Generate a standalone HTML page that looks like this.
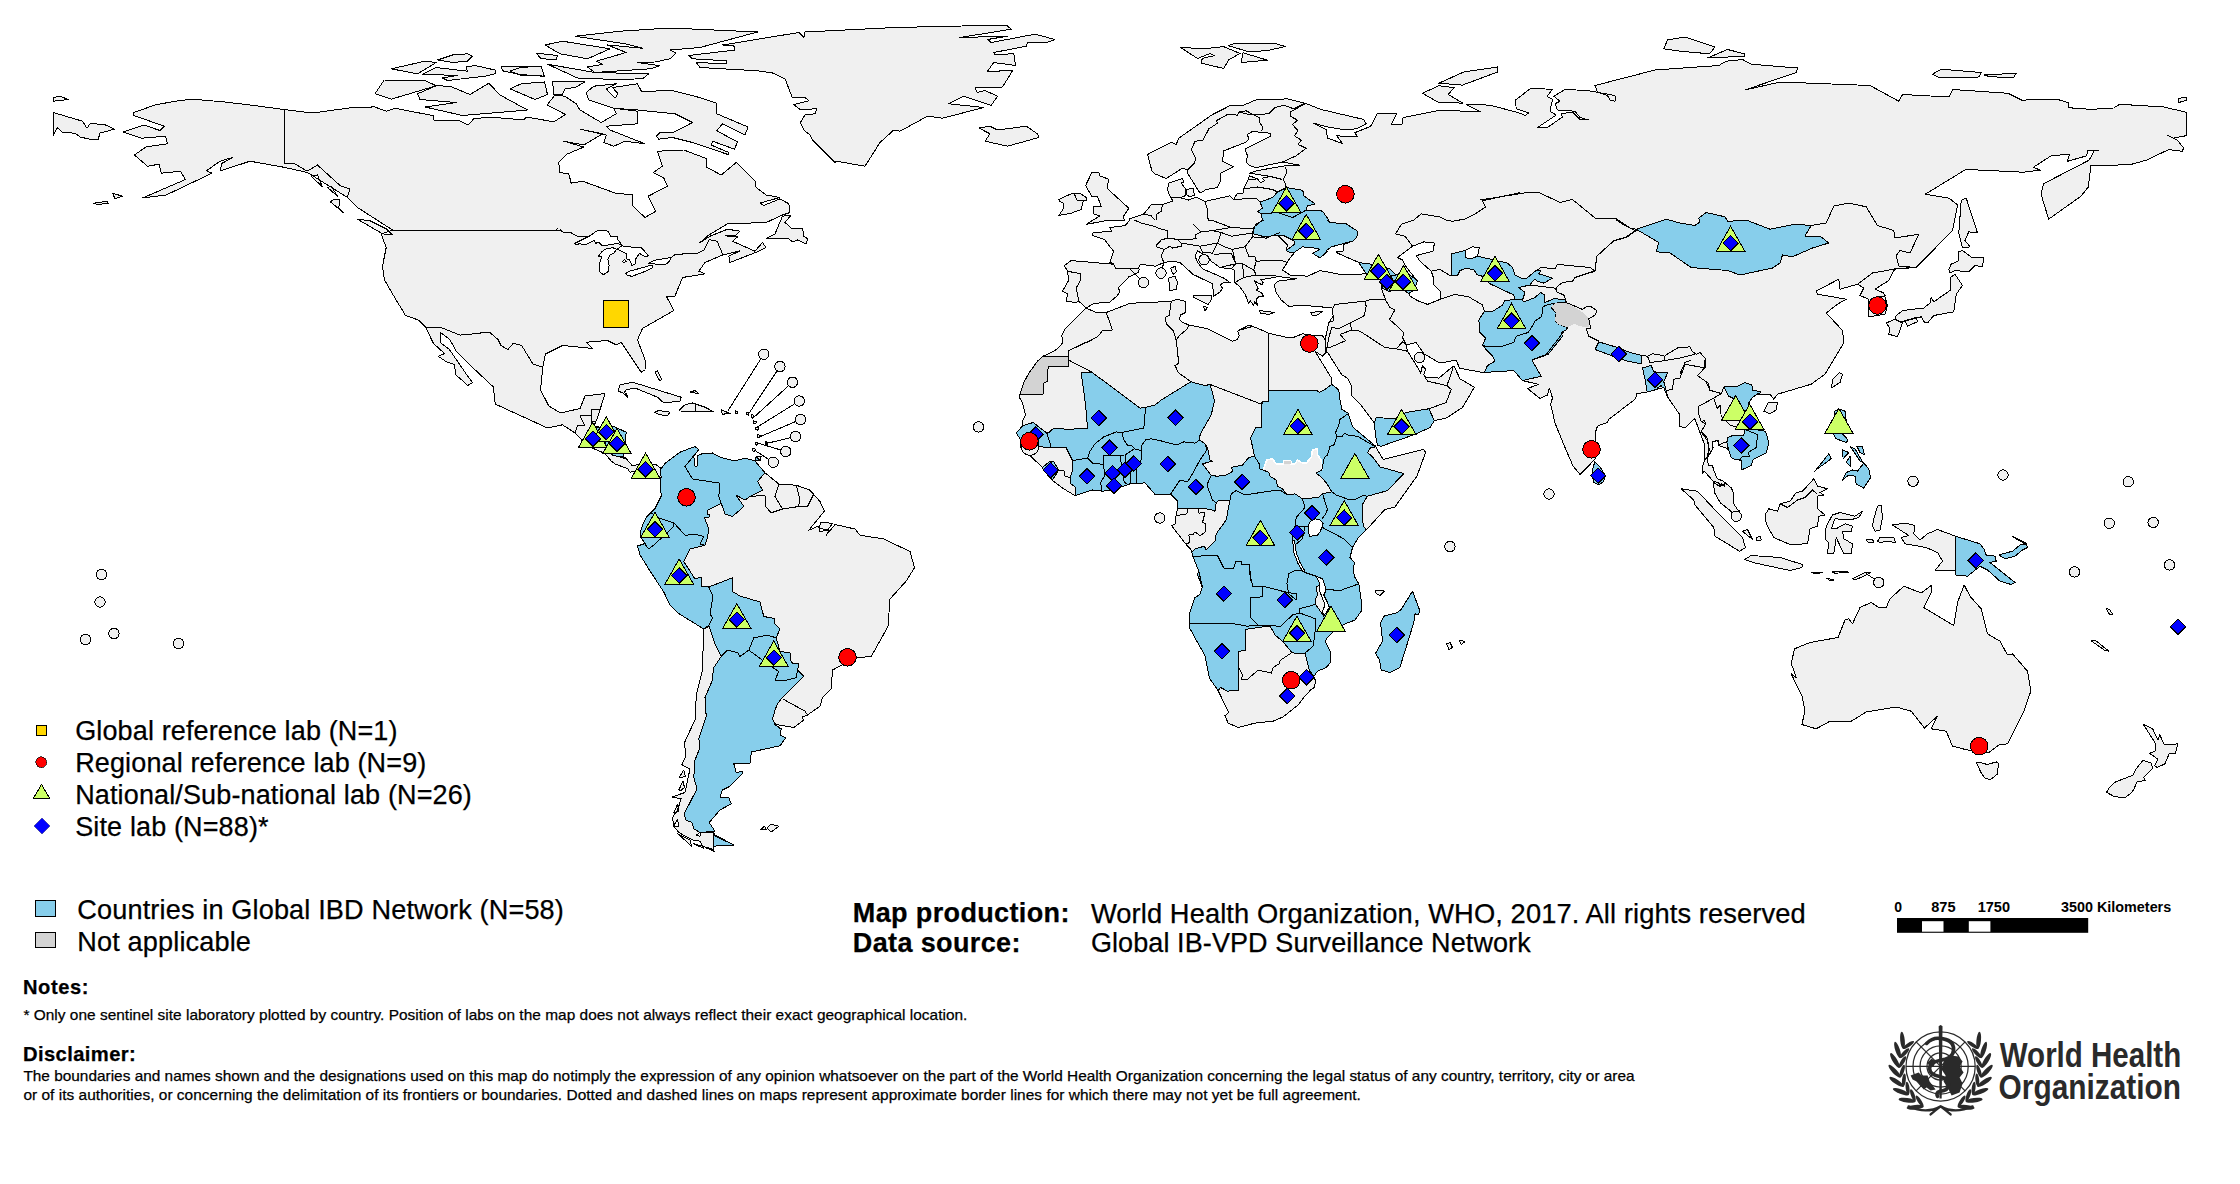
<!DOCTYPE html>
<html><head><meta charset="utf-8"><title>Global IBD Laboratory Network</title>
<style>
html,body{margin:0;padding:0;background:#fff;}
body{width:2240px;height:1184px;position:relative;overflow:hidden;font-family:"Liberation Sans",sans-serif;color:#000;}
.t{position:absolute;white-space:nowrap;line-height:1;-webkit-text-stroke:0.25px #000;}
</style></head><body>
<svg width="2240" height="1184" viewBox="0 0 2240 1184" style="position:absolute;left:0;top:0">
<defs><clipPath id="landclip"><path d="M53.2 112.5 L82.5 121.2 L87 128.2 L90 123.8 L103.8 124.2 L114.5 129.2 L100 133 L98.2 139.5 L91.2 139.5 L80 137 L75 133.2 L62.5 132.5 L57.5 127.5 L53.2 135.5Z M53.2 97.5 L60 96.2 L68.2 99.5 L53.8 101.2Z M311.2 176.2 L317.5 175 L322.5 187Z M327.5 187.5 L331.2 186.2 L337.5 196.2Z M330.5 202 L333.8 199.2 L340 200 L338.8 207.5 L343.2 212.5Z M357.5 219.2 L370 220.8 L386.2 228.8 L392.5 235 L382.5 233.8Z M112.5 193.2 L122.5 196.2 L115 198.8Z M93.8 203.2 L107.5 201.2 L108.2 203.2 L97.5 204.5Z M384.2 80 L425 80.5 L436.2 85.8 L391.2 99.2 L375 93.8Z M417.5 93.8 L436.2 85.8 L450 86.2 L470 94.5 L488.8 83.2 L500 95 L527.5 110 L462.5 115.5 L425 107 L456.2 102.5 L420 99.5Z M391.2 68.8 L425 61.2 L436.2 62.5 L417.5 73.8Z M422.5 74.2 L436.2 67.5 L467.5 71.2 L466.2 67 L475 65.5 L495 70 L495 73.8 L485 76.2 L447.5 80.5 L442.5 78 L457.5 75.5Z M437.5 60 L452.5 55 L467.5 53.8 L472.5 56.2 L467.5 61.2 L452.5 62.5Z M501.2 66.2 L541.2 66.2 L544.5 76.2 L520 74.5 L502.5 70.8Z M510 88.8 L521.2 83.8 L544.5 82 L547.5 94.5 L535 99.5Z M618.2 391 L620 384.8 L632.5 382.2 L681.2 397.2 L680 401 L663.8 403 L657.5 397.2 L635 388 L626.2 389.8 L623.8 393.5Z M624.5 394.8 L626.2 393.5 L628 398Z M655 372.2 L657.5 371 L661.8 379.8 L659.5 380.5Z M654.2 412.2 L658.8 410.5 L670 412.2 L667.5 415.5 L660 414.8Z M679.5 409.8 L685 404.8 L692.5 403 L705 407.2 L713.8 411.8 L680 411Z M690 392.2 L695 390.5 L698.8 393.5Z M721.2 409.8 L730 413.5 L722.5 414.2Z M755 457.2 L761.2 456 L760 461 L755 460.5Z M751.2 414.5 L754 415.5 L753.2 417.8 L751.2 417Z M753.8 420.8 L756.5 421.8 L755.8 424 L753.8 423.2Z M755.8 427 L758.5 428 L757.8 430.2 L755.8 429.5Z M757.5 434.5 L760.2 435.5 L759.5 437.8 L757.5 437Z M755 442 L757.8 443 L757 445.2 L755 444.5Z M765 441.5 L767.8 442.5 L767 444.8 L765 444Z M752.5 448.2 L755.2 449.2 L754.5 451.5 L752.5 450.8Z M735 410.8 L737.8 411.8 L737 414 L735 413.2Z M746.2 412 L749 413 L748.2 415.2 L746.2 414.5Z M760.8 829.5 L764.5 826.2 L766.2 830Z M767 828 L771.2 824.2 L778.8 826.2 L771.2 832Z M679.5 777 L683.8 770 L685.2 776.2 L681 778Z M678.8 790 L683 781.2 L684.5 787.5 L680.2 791Z M673.8 812.5 L677.5 804.5 L679 810.8 L675.2 813.5Z M673.8 825 L677.5 820 L679 826.2 L675.2 826Z M677.5 833.8 L690 840 L691.5 846.2 L679 834.8Z M693.8 843.8 L702.5 846.2 L704 848.2 L695.2 844.8Z M705 847 L713 849.5 L714.5 851.5 L706.5 848Z M818.8 527.8 L821.2 522 L832.5 523.5 L827.5 530.2Z M798.8 32.5 L803.8 37.5 L805 32 L895 27.5 L1006.2 25 L1011.2 29.2 L960 37.5 L1007.5 36.2 L987.5 39.5 L991.2 42.5 L1035 34.2 L1055 39.5 L1045 43 L1027.5 42.5 L1026.2 46.2 L993.8 52.5 L995 54.5 L1013.8 53.8 L1015.5 65.5 L993.8 62.5 L987.5 71.2 L1012.5 70.8 L1002.5 87 L975 88 L977.5 92.5 L985 90.5 L997.5 96.2 L991.2 105.5 L963.8 96.2 L948.8 103.8 L983.8 107.5 L942.5 118.2 L927.5 116.2 L900 131.2 L893.8 130 L880 142.5 L865 166.2 L836.2 161.2 L835 162.5 L812.5 140 L810 135 L803.8 130 L800.5 122.5 L805 115 L815 113.8 L816.8 108.8 L800 109.5 L793.8 104.5 L808.8 100.8 L805 97.5 L792.5 98 L785 78.8 L772.5 73 L757.5 70.8 L700 67.5 L696.2 62.5 L726.2 63.8 L726.8 60.8 L692.5 58.8 L688.8 55.5 L735 50 L733.8 45.8 L722.5 45Z M978.8 128 L990 126.2 L997.5 130 L1026.2 126.2 L1037.5 133.8 L1038.8 137.5 L1007.5 146.2 L985 141.2 L990 133.8Z M575 36.2 L620 31.2 L670 28 L757.5 32 L700 47.5 L670 50 L676.2 53 L670 58.8 L655 62 L637.5 62.5 L660 65.8 L650 68.8 L595 72.5 L587.5 67 L602.5 64.5 L596.2 61.2 L626.2 52.5 L607.5 45 L642.5 48.2 L625 43.8Z M545 45 L562.5 41.2 L610 48.8 L587.5 58.8 L560 53.8Z M547.5 64.2 L595 72.5 L648.8 73.8 L642.5 78.8 L615 79.5 L577.5 78Z M536.2 53.2 L557.5 55.5 L556.2 59.5 L541.2 58.8Z M520 67.5 L541.2 66.2 L544.2 76.2 L520 75 L510 71.2Z M552.5 81.2 L585 82 L575 87.5 L565 88.8 L562.5 94.5 L553.8 94.5Z M586.2 92.5 L593.8 86.2 L616.2 83.8 L606.2 88.8 L615 98.2 L618 93.8 L612.5 87.5 L637.5 83.8 L641.8 92 L670 90 L695 96.2 L716.2 103 L716.8 113.8 L748 127 L745 135 L722.5 123.8 L716.8 130.8 L737.5 142 L734.5 149.2 L712.5 141.2 L711.2 145 L728.8 152.5 L728 154.5 L692.5 142.5 L672.5 137.5 L658.8 139.2 L656.2 136.2 L660 132.5 L672.5 133 L692.5 122.5 L675 113.8 L637.5 110 L613.8 108.2 L588.8 100Z M766.2 238.8 L775 233.8 L782.5 216.2 L791.2 215 L785 222.5 L791.2 228 L802.5 228 L803.8 236.2 L807.5 238.8 L806.2 243.8 L797.5 240 L792.5 242 L788.8 238.8Z M284.2 109.5 L250 105 L225 102 L192.5 99.2 L175 101.2 L155 105 L133.8 112.5 L133.8 115.5 L164.2 126.2 L160 130.5 L143.8 125 L123.2 132 L141.8 138.2 L165.5 136.2 L167.5 143.8 L146.2 146.8 L134.5 155 L147.5 166.2 L159.2 164.2 L161.2 173.2 L180.5 171.2 L185.5 179.5 L142.5 198 L166.2 195 L212 173.2 L206.5 170.8 L220 161.2 L232.5 157.5 L221.2 163.8 L220.8 170.8 L250 161.2 L282.5 167 L307.5 172.5 L347.5 197.5 L357.5 207.5 L392.5 230 L381.2 234.2 L386.2 247.5 L382.5 266.2 L384.5 280 L393.8 296 L393.8 296 L397.5 302.2 L402.3 310 L405.3 315.3 L419 320.3 L425.8 327.5 L433.4 343.4 L444.5 353.5 L438.4 356.4 L446.4 361.7 L454.7 364.7 L455.5 374.6 L461.6 379.9 L467.6 385.6 L472.6 382.6 L466.1 373.8 L449.4 349.5 L440.3 342.7 L440.3 332.4 L449.8 339.6 L456.2 351 L474.5 369.3 L493.5 387.1 L494.6 400 L495.5 404.2 L547.5 428 L562.5 424.8 L575 433 L587.5 446 L605 453.5 L611.2 461 L615 464 L627.5 468.5 L630 472.2 L636.2 471 L640 474.8 L650 478 L660 478.5 L661.2 496 L655 508.5 L646.2 517.2 L641.2 528.5 L640 536 L645 543.5 L637.5 546 L640 554.8 L650 571 L663.8 592 L663.8 592 L670 605.2 L677.5 612.8 L703.8 629 L703 651.5 L702.5 670 L696.2 695 L695.5 718.8 L684.5 742.5 L685.8 756.2 L681.8 765 L690 768.8 L685 792.5 L671.8 797 L681.2 798.8 L677.5 810 L672.5 817.5 L673.8 826.2 L678.8 832.5 L692.5 840 L700 841.2 L702.5 846.2 L713.8 849.5 L713 846.2 L733.8 845 L715 835 L713 832 L701.2 832.5 L700 836.2 L696.2 835 L700 832.5 L715 831.2 L709.2 822.5 L720 810 L731.2 803.8 L728.8 797.5 L720 797 L722.5 790 L730 786.2 L742.5 773.8 L742.5 771.2 L736.2 772.5 L733.8 763.8 L750.5 763 L751.2 752 L780 745.8 L785.5 738 L780 735 L781.2 728.8 L775 724.5 L772.5 718.8 L775.5 724.5 L793.8 727.5 L803.8 720 L802 717 L807.5 715 L820 706.2 L822.5 697.5 L831.2 688.8 L832.5 670 L856.2 657.8 L871.2 656.5 L888 626.5 L890 599 L906.2 581 L914.5 567.8 L910 551.5 L883.8 539 L860 535.2 L855 529 L835 524.5 L826.2 535.2 L828.8 530.2 L820 531.5 L818.8 526 L808.8 530.2 L824.5 511 L820 501.5 L810 490.2 L796.2 485.2 L778.8 484 L765 472.8 L755 461 L745 458 L735 461 L720 457.2 L712.5 453 L702.5 453.5 L697 456 L697 466 L695 466 L693.8 456 L698.8 449.8 L695 446.5 L680 452.2 L665 463.5 L661.2 468.5 L655 464 L640 464 L632.5 466 L625 457.2 L616.2 456 L623.8 456 L625 446 L626.2 432.2 L613.8 426.5 L600 427.2 L593.8 426 L596.2 421 L600 409.8 L605 393.5 L585 396 L580 408.5 L560.5 413 L548.8 406 L540.5 389.8 L542.8 367 L545.5 354 L562.5 345.5 L592.5 348.5 L586.2 342.2 L607.5 340.5 L616.2 344.8 L621.2 342.2 L641.2 372.2 L645 369.8 L645.5 361 L637.5 339.8 L642.5 328.5 L673.8 310.5 L666.2 296 L675 296 L682.5 277.5 L705 273.8 L698.8 271.2 L705 262.5 L722.5 255 L740 250.8 L728.8 256.2 L730 262.5 L758.8 251.2 L765.8 247.5 L762.5 242.5 L755 251.2 L732.5 241.2 L737.5 237 L725 235.8 L736.2 235 L740 231.2 L727.5 229.2 L710 236.2 L700 242.5 L708.8 235 L727.5 223.8 L766.2 222.5 L782.5 215 L790 212.5 L788.8 203.8 L780 198.8 L763.8 205.5 L760 203 L780 197.5 L766.2 195 L756.2 187.5 L755 181.2 L736.2 162.5 L721.2 175 L706.2 167 L707 158.8 L683.8 150 L657.5 151.2 L662.5 166.2 L653.2 172.5 L663.8 178 L667.5 186.2 L648.2 196.2 L655.8 211.2 L645 217.5 L633 206.2 L632.5 195 L615 193 L582.5 181.2 L571.2 183.2 L568.8 173.8 L559.5 172.5 L558.8 162.5 L566.2 154.5 L583.8 147 L563.8 141.2 L583.8 145 L602.5 133.8 L580 129.2 L606.2 135 L603.8 142.5 L613.8 146.2 L625 141.2 L645 143.8 L610 130 L606.2 126.2 L637.5 123.8 L637.5 111.2 L613.8 108.2 L616.2 113.8 L601.2 122.5 L580 110 L576.2 103.8 L565 96.2 L555 95 L547 105 L565.5 114.5 L553.8 121.8 L526.2 117 L523.8 120 L490 117 L473.8 118.8 L468 125 L457.5 120 L433.8 120 L433.8 115.8 L395 108.2 L386.2 111.2 L372.5 106.2 L370 108 L352.5 107.5 L312.5 113 L284.2 109.5Z M1412.5 591.2 L1420 611.2 L1418.1 615 L1415 613.8 L1413.8 622.5 L1408.8 638.8 L1402.5 658.8 L1400 667.5 L1390 672.5 L1381.2 670 L1379.4 660 L1375.6 653.1 L1382.5 641.2 L1380.6 622.5 L1383.8 616.2 L1397.5 612.5 L1401.2 609.4Z M1375.2 590.6 L1384.4 591 L1380 595.6 L1376.2 593.8Z M1091.9 172.4 L1098.8 172 L1099.4 175.8 L1108.8 179.2 L1106.9 188.2 L1128.8 208.2 L1123.1 217 L1125 220.6 L1106.2 220.6 L1086.2 224.4 L1100 215.8 L1093.8 213.9 L1093.1 207 L1101.2 206.4 L1097.5 196.4 L1091.9 196.4 L1085.6 185.5Z M1058.8 199.5 L1072.5 193.2 L1080 193.2 L1086.2 197.6 L1086.9 200.1 L1083.1 201.4 L1081.2 209.5 L1071.2 213.2 L1058.8 215.5 L1063.8 208.2 L1063.1 203.2 L1060 201.4Z M1186.9 189.5 L1193.1 188.2 L1194.4 195.1 L1190 197 L1186.2 194.5Z M1193.8 295 L1211.2 295 L1211.2 300 L1208.1 304.4 L1193.8 297.5Z M1203.1 306.2 L1207.5 307.5 L1205 310.6Z M1170.6 268.1 L1175.6 266.2 L1176.2 271.9 L1173.1 274.4Z M1168.8 278.1 L1175 276.2 L1177.5 282.5 L1176.2 289.4 L1169.4 290.6Z M1259.4 310.6 L1275 312.5 L1268.8 314.4 L1260.6 313.1Z M1310.6 312.5 L1322.5 311.2 L1317.5 315 L1312.5 315.6Z M1422.5 93.2 L1438.8 85.8 L1454.4 87.6 L1448.1 94.5 L1463.1 103.2 L1437.5 102Z M1438.8 83.2 L1463.8 72 L1497.5 67 L1497.5 72 L1462.5 85.1Z M1763.8 411.2 L1768.1 402.5 L1777.5 402.5 L1776.2 410 L1770 413.8Z M1831.2 388.1 L1833.1 378.8 L1839.4 372.5 L1842.5 374.4 L1840 382.5Z M1833.8 418.8 L1835 411.2 L1838.8 408.8 L1845 411.2 L1846.2 420 L1842.5 433.8 L1848.1 440 L1846.2 442.5 L1836.2 438.8 L1833.1 433.8 L1836.2 427.5Z M1842.5 450 L1848.8 452.5 L1843.1 458.8Z M1856.9 446.2 L1862.5 446.2 L1864.4 455 L1860 452.5Z M1846.2 462.5 L1850 456.2 L1850.6 466.2Z M1814.4 471.9 L1828.8 453.8 L1831.2 458.8 L1817.5 468.8Z M1842.5 480 L1846.2 472.5 L1852.5 470 L1857.5 471.2 L1863.8 463.1 L1868.8 468.8 L1870.6 477.5 L1863.8 488.1 L1856.2 483.8 L1855 476.2 L1848.8 475Z M1850.6 446.9 L1855 448.8 L1860 457.5 L1863.1 462.5 L1860 461.2 L1856.9 456.2Z M1961.2 200.5 L1966.2 198 L1977.5 233 L1968.8 231.8 L1965 240.5 L1970 246.8 L1962.5 248 L1958.8 233Z M1958.8 251.8 L1962.5 250.5 L1972.5 258 L1983.8 257.2 L1982.5 266.8 L1975 265.5 L1968.8 271.8 L1955 270.5 L1950 273 L1948.8 269.2 L1951.2 264.2 L1958.8 260.5Z M1955 274.2 L1962.5 285.5 L1956.2 294.2 L1953.8 311.8 L1933.8 315.5 L1927.5 323 L1923.8 321.8 L1921.2 316.8 L1902.5 321.8 L1896.2 320.5 L1895 316.8 L1902.5 310.5 L1923.8 308 L1930 303 L1931.2 297.5 L1933.8 301.8 L1950 290.5 L1950 278Z M1886.2 323 L1895 319.2 L1902.5 323 L1897.5 336.8 L1888.8 334.2 L1890 328Z M1905 320.5 L1916.2 317.5 L1917.5 321.8 L1907.5 326Z M1593.1 467.5 L1594.8 461.9 L1600 466.9 L1605 475 L1603.8 481.2 L1598.8 485 L1593.8 482.5 L1591.9 475Z M1129.4 218.9 L1143.8 213.9 L1151.2 204.8 L1162.5 204.5 L1173.1 200.8 L1170.6 197.6 L1167.5 190.1 L1168.8 183.2 L1182.5 178.5 L1183.8 182 L1181.2 183.2 L1185 188.2 L1185 195.8 L1180 197.6 L1188.8 200.1 L1196.2 197 L1205 201.4 L1230 195.8 L1233.8 199.5 L1236.9 193.9 L1243.1 193.2 L1243.8 188.9 L1248.1 179.5 L1249.4 175.8 L1257.5 178.9 L1260.6 182.6 L1264.4 180.8 L1262.5 178.2 L1270 176.4 L1249.4 173.2 L1256.2 170.8 L1285 165.8 L1299.4 165.1 L1282.5 162 L1256.2 167.6 L1250 165.8 L1246.2 162 L1247.5 155.8 L1245 148.9 L1270.6 136.4 L1270 133.2 L1252.5 131.4 L1247.5 134.5 L1248.8 139.5 L1245 142.6 L1223.8 150.8 L1222.5 161.4 L1233.8 166.8 L1220.6 173.2 L1220 182.6 L1216.9 187.6 L1206.2 189.5 L1200 193.2 L1186.9 172 L1187.5 170.1 L1182.5 168.2 L1166.2 178.5 L1155 173.9 L1151.9 170.8 L1147.5 154.5 L1171.2 142.2 L1176.2 144.5 L1178.8 138.2 L1212.5 114.5 L1231.2 105.1 L1243.8 105.1 L1253.8 100.8 L1253.8 100.1 L1287.5 98.9 L1305 103.2 L1321.2 109.5 L1363.8 119.5 L1366.2 123.9 L1356.2 128.9 L1342.5 129.5 L1327.5 127 L1313.8 123.2 L1326.2 129.5 L1327.5 138.2 L1342.5 143.5 L1336.9 135.8 L1357.5 137 L1355 132.6 L1370.6 126.4 L1377.5 113.2 L1396.9 113.2 L1391.2 124.5 L1401.9 124.5 L1403.1 117.6 L1440 110.1 L1481.2 112 L1466.2 104.5 L1490 105.1 L1520 113.2 L1525 115.5 L1528.8 113 L1516.2 108.8 L1515.5 100 L1531.2 88 L1552.5 89.5 L1547 96.2 L1552.5 99.5 L1550 111.2 L1556.2 115 L1537.5 127.5 L1547.5 127.5 L1562.5 117 L1561.2 113.8 L1572.5 112 L1580 119.5 L1588.8 120 L1580 117.5 L1575 111.2 L1557.5 110 L1555 103.8 L1560 101.2 L1553.8 96.2 L1565 89.5 L1587.5 90.5 L1615 95.5 L1615 101.2 L1610 100 L1607.5 95.5 L1597.5 92 L1595 85.5 L1655 70 L1718.8 65.5 L1726.2 61.2 L1742.5 59.5 L1751.2 64.2 L1797.5 68 L1796.2 72.5 L1745 90 L1780 82 L1870 85.5 L1898.8 101.2 L1902.5 94.5 L1948.8 97 L1953 89.5 L2008.1 93.3 L2021.6 100.1 L2057.1 99.3 L2068.4 102.6 L2068.4 107.7 L2090.9 109.4 L2113.7 108 L2119.6 104.3 L2163.5 106.9 L2186.7 112.4 L2186.7 135.6 L2173.6 138.1 L2166.9 135.1 L2177 139.8 L2183.8 148.2 L2182.1 151.3 L2168.6 149.6 L2146.6 160.1 L2129.7 164.8 L2090.9 165.5 L2088.3 187.1 L2080.7 196.4 L2048.6 219.2 L2041 193.9 L2043.6 183.7 L2089.2 160.1 L2094.3 150.8 L2098.5 150.3 L2087.5 150.4 L2086.7 155.8 L2067.2 161.4 L2069.4 154.7 L2052 155.3 L2033.4 167.2 L2040.2 170.2 L2023.3 172.2 L1965.9 169.4 L1925.3 194.2 L1949 198.1 L1957.4 204.8 L1957.5 205.5 L1952.5 230.5 L1916.2 267.5 L1895 268.5 L1888.8 280.5 L1875 289.2 L1883.8 293 L1887.5 305.5 L1885 314.2 L1868.8 316.8 L1868.8 299.2 L1860 295.5 L1863.8 288 L1857.5 284.2 L1840 289.2 L1838.8 279.2 L1816.2 291 L1817.5 294.2 L1846.2 299.2 L1837.5 304.2 L1826.2 313 L1842.5 330.5 L1843.8 343 L1825 374.2 L1811.2 384.2 L1777.5 394.2 L1773.8 399.2 L1770 394.2 L1756.2 394.2 L1758.8 393.1 L1752.5 397.5 L1748.1 403.8 L1750 410 L1757.5 430 L1765.6 431.2 L1768.8 442.5 L1766.2 453.1 L1753.1 459.4 L1751.2 465.6 L1741.2 470 L1741.7 460.3 L1738.7 459.9 L1734.1 459.2 L1731.1 457.3 L1729.5 451.9 L1727.3 448.5 L1718.9 445.5 L1718.5 440.5 L1712.8 441.3 L1712.4 449.3 L1707.5 457.3 L1707.9 462.6 L1709 465.6 L1712.4 465.6 L1714.3 471.7 L1717.4 478.9 L1722.7 480.8 L1731.1 487.7 L1733.3 492.2 L1733.7 503.7 L1737.9 510 L1740 511.2 L1737 516.2 L1732.5 513 L1729.5 510 L1720.4 502.9 L1714.7 493 L1713.2 481.2 L1704.4 471.3 L1702.2 473.2 L1702.5 466.4 L1704.8 459.5 L1704.4 444.3 L1695.3 420 L1694.4 418.8 L1685 428.1 L1679.4 426.2 L1680 415 L1667.5 396.9 L1663.8 387.5 L1647.5 391.9 L1636.9 393.8 L1635.6 398.8 L1608.8 419.4 L1607.5 422.5 L1598.1 425.6 L1596.2 428.8 L1595 440 L1595 458.8 L1590 464.4 L1580 474.4 L1573.1 466.2 L1565 447.5 L1555 423.1 L1550.6 403.8 L1552.5 398.1 L1549.4 388.1 L1547.5 395 L1540 398.5 L1527.5 388.5 L1538.8 384.4 L1522.5 380.6 L1513.8 370.6 L1482.5 372.5 L1482.5 372.5 L1459.4 368.1 L1456.2 360 L1440 363.1 L1423.8 353.8 L1416.2 342.5 L1406.2 345 L1407.5 351.2 L1416.2 365 L1420.6 373.1 L1422.5 365.6 L1425.6 369.4 L1423.8 374.4 L1425 376.9 L1438.8 378.1 L1452.5 366.9 L1453.8 366.2 L1455.6 369.4 L1460 378.8 L1474.4 387.2 L1462.5 407.5 L1446.2 418.1 L1434.4 420.6 L1430 427.5 L1415 434.4 L1381.2 446.2 L1377.5 445.6 L1375.6 436.2 L1374.4 423.1 L1360 403.8 L1351.2 395 L1351.9 386.9 L1347.5 378.1 L1341.9 375 L1330 356.2 L1328.1 353.1 L1326.2 352.5 L1322.5 356.2 L1315 351.2 L1331.9 378.8 L1331.9 384.4 L1338.8 390 L1340 400 L1341.9 409.4 L1348.1 413.1 L1352.5 426.2 L1356.2 430 L1375.6 446.2 L1377.5 450 L1383.1 459.4 L1423.8 449.4 L1425.6 452.5 L1416.9 476.2 L1395 506.9 L1385 509.4 L1366.2 530 L1357.5 538.8 L1352.5 547.5 L1350 557.5 L1354.4 562.5 L1353.1 571.2 L1355 577.5 L1358.8 583.8 L1361.2 600 L1361.2 611.2 L1355 620 L1343.8 624.4 L1332.5 632.5 L1326.2 638.8 L1325.6 641.9 L1330 651.2 L1330.6 662.5 L1326.2 667.5 L1317.5 671.2 L1313.1 677.5 L1315.6 680 L1314.4 687.5 L1310.6 690 L1303.8 697.5 L1298.1 705 L1283.1 716.9 L1273.1 721.2 L1255 723.1 L1238.1 727.5 L1228.1 723.1 L1225 715.6 L1228.8 712.5 L1218.1 690.6 L1209.4 678.1 L1205 655.6 L1196.2 640 L1189.4 627.5 L1189.4 613.8 L1195 597.5 L1200 594.4 L1202.5 586.9 L1198.8 571.2 L1202.5 588 L1197.5 574.4 L1198.8 571.2 L1193.1 556.9 L1191.2 550 L1185.6 543.8 L1171.5 525.6 L1175 524 L1176.2 515 L1177.5 508.1 L1177.5 501.2 L1170.6 494 L1155.6 495 L1145 482.9 L1130 483.8 L1114.4 489.4 L1102.5 491.2 L1092.5 490 L1075 495.6 L1062.5 488.1 L1052.5 480.6 L1043.8 470.6 L1041.9 466.9 L1030 455.6 L1020.6 447.5 L1020 438.8 L1016.2 433.1 L1022.2 426.2 L1022.5 421.2 L1025.6 415 L1022.5 402.5 L1019.4 397.5 L1020 394.4 L1024.4 381.2 L1029.4 372.5 L1037.5 361.2 L1043.1 356.2 L1055 350.6 L1061.9 344.4 L1062.5 340 L1062.5 343.8 L1061.9 335 L1065 328.8 L1070 323.8 L1086.2 308.1 L1096.2 312.5 L1106.2 312.5 L1128.8 303.8 L1141.2 302.5 L1161.2 301.9 L1171.2 301.2 L1177.5 299.4 L1185 301.2 L1185.6 312.5 L1180.6 315 L1179.4 319.4 L1181.9 321.9 L1188.8 325 L1207.5 328.8 L1232.5 341.2 L1237.5 339.4 L1239.4 335.6 L1237.5 331.2 L1247.5 325.6 L1253.8 326.2 L1240 330 L1248.1 325.6 L1256.2 327.5 L1268.1 333.1 L1290 338.1 L1295 336.9 L1302.5 333.8 L1315 335.6 L1322.5 335.6 L1325 340 L1325 340 L1327.5 328.8 L1328.8 322.5 L1333.1 316.2 L1332.5 308.1 L1315 306.2 L1302.5 305.6 L1288.8 306.2 L1281.2 300 L1276.2 292.5 L1274.4 285 L1277.5 281.2 L1296.2 278.8 L1276.2 276.2 L1276 277.1 L1260.8 279.8 L1263.1 282.4 L1262.3 284.3 L1260.4 284 L1258.5 283.2 L1254.3 280.5 L1258.1 288.5 L1256.6 290 L1262.3 293.5 L1263.5 296.9 L1258.5 296.9 L1256.2 299.5 L1257.4 305.2 L1254.7 301.8 L1253.6 305.6 L1250.2 300.7 L1248.6 303.3 L1245.6 295.4 L1244.8 293.8 L1239.5 286.2 L1234.6 282.4 L1234.2 270.3 L1231.2 268.8 L1220 267.5 L1211.2 261.2 L1207.5 256.2 L1200 252.5 L1197.5 250.6 L1195 256.2 L1198.1 263.1 L1202.5 268.8 L1223.8 278.1 L1230 282.5 L1223.8 282.5 L1220 285 L1222.5 288.1 L1220 291.9 L1213.8 296.2 L1212.5 283.8 L1193.1 274.4 L1180 262.5 L1172.5 261.2 L1163.8 262.5 L1155.6 266.2 L1140.6 264.4 L1138.1 268.1 L1139.4 269.4 L1138.1 272.5 L1128.8 276.9 L1118.1 288.1 L1120 291.2 L1116.9 296.2 L1108.8 302.8 L1094.4 303.1 L1086.2 308.1 L1078.8 301.2 L1076.2 302.5 L1066.2 301.2 L1067.5 293.8 L1062.5 291.2 L1068.8 280 L1067.5 271.2 L1064.4 265.6 L1071.2 260.6 L1108.8 263.8 L1113.8 263.8 L1110 262.5 L1113.5 251.2 L1104.4 239.4 L1093.1 235.6 L1091.9 233.1 L1110 231.2 L1111.9 231.9 L1110 227.5 L1125 225.6 L1130 220Z M2178.4 98.4 L2186.7 97.2 L2186.7 100.1 L2178.7 102.6Z M1663.8 48.8 L1667.5 40 L1685 37 L1715 47 L1709.5 53.8 L1680 51.2Z M1707.5 58 L1727.5 49.5 L1744.5 53.8 L1744.5 56.2Z M1932.5 74.2 L1941.2 69.2 L1981.2 72.5 L1978.8 77 L1940 78Z M1984.5 75 L2016.2 73.2 L2013.8 77.5 L1990 76.8Z M1681.2 488.8 L1697.5 491.2 L1717.5 512.5 L1742.5 537.5 L1745.5 547.5 L1739.5 551.2 L1715 536.2 L1713.8 527.5 L1695 505 L1693.8 500Z M1742.5 531.2 L1747.5 529.5 L1752.5 539.5Z M1756.2 537.5 L1760.5 536.2 L1761.2 540 L1757 540.5Z M1744.5 559.5 L1751.2 555.5 L1780 557.5 L1802.5 564.5 L1802 567.5 L1790 570.5 L1755 563Z M1811.2 572 L1822.5 572.5 L1815 574Z M1826.2 578 L1833.8 580 L1830 580.5Z M1832.5 572 L1847.5 571.2 L1848 572.5 L1835 573.2Z M1852.5 578.8 L1865 572.5 L1871.2 572 L1866.2 575 L1855 580Z M1765 515 L1768.8 508.8 L1777.5 511.2 L1780 503.8 L1790 501.2 L1796.2 492.5 L1802.5 491.2 L1813.8 478.8 L1817.5 486.2 L1827.5 488.8 L1820 492.5 L1823.8 495 L1817 496.2 L1817.5 508.8 L1825 515 L1818.8 516.2 L1817.5 526.2 L1810 528.8 L1807.5 543.8 L1790 544.5 L1773.8 537.5 L1766.2 523.8Z M1827.5 553.8 L1828.8 542.5 L1825 538.8 L1826.2 526.2 L1832.5 515 L1840 512.5 L1855 516.2 L1862.5 511.2 L1858.8 517.5 L1850 520 L1835 518.8 L1831.2 528.8 L1836.2 528.8 L1845 523.8 L1852.5 526.2 L1851.2 531.2 L1842.5 531.2 L1843.8 538.8 L1852.5 543.8 L1851.2 553.8 L1843.8 553.8 L1836.2 537.5 L1833.8 553.8Z M1873.8 518.8 L1877.5 506.2 L1881.2 505 L1882.5 517.5 L1880 530 L1875 531.2 L1872.5 526.2Z M1866.2 540 L1872.5 539.2 L1873.8 542.5 L1868.8 543Z M1877.5 541.2 L1880 537.5 L1893.8 537.5 L1895.5 543 L1888.8 541.2 L1880 542.5Z M1892.5 525 L1905 523 L1915 525.5 L1913.8 533.8 L1920 540 L1927.5 533.8 L1937.5 529.5 L1955.5 536.2 L1980 543.8 L1983.8 548.8 L1986.2 555 L1995 556.2 L1996.2 561.2 L1990 562.5 L2015 582.5 L2011.2 584.5 L2000 581.2 L1987.5 570 L1980 566.2 L1967.5 576.2 L1955.5 575 L1955.5 575 L1955.5 570 L1935 570.5 L1942.5 561.2 L1937.5 552.5 L1926.2 547.5 L1905 543.8 L1901.2 537.5 L1908.8 535.5Z M1998.8 555 L2012.5 551.2 L2020 545 L2026.2 543.8 L2027.5 547.5 L2022.5 550 L2015 556.2 L2005 558.8Z M2012.5 536.2 L2025 542.5 L2026.2 544.5 L2013.8 537.5Z M2106.2 608.2 L2110 610 L2113 615 L2108.8 613.8Z M2091.2 640.8 L2095 640 L2108.8 651.2 L2105 650.5Z M1903.8 586.2 L1921.2 593 L1931.2 585.5 L1931.2 592.5 L1923.8 607.5 L1953.8 625.5 L1957.5 602.5 L1964.2 585 L1970 596.2 L1981.2 608.8 L1987.5 633.8 L2000 641.2 L2007.5 655 L2012.5 653.8 L2027.5 671.2 L2030.8 691.2 L2023.8 711.2 L2007.5 743.8 L1998.8 745 L1988.8 752.5 L1967.5 750 L1952.5 746.2 L1946.2 731.2 L1931.2 728.8 L1937.5 716.2 L1924.5 728 L1911.2 711.2 L1896.2 707 L1866.2 712 L1850 722 L1830 721.2 L1816.2 728.8 L1801.8 724.5 L1805 711.2 L1802 696.2 L1791.2 673.8 L1796.2 677.5 L1793.8 670 L1791.2 663.8 L1794.5 648.8 L1810 642.5 L1838 637.5 L1845 620 L1848.8 618.8 L1852.5 623.8 L1860 607.5 L1871.2 602.5 L1878.8 607.5 L1886.2 607.5 L1890 598.8Z M1976.4 763 L1978.9 762.2 L1987.3 764.5 L1996.4 761.9 L1998.7 763.8 L1997.1 774.4 L1990.3 779.7 L1985 778.2 L1981.2 772.9Z M2143.3 724.3 L2152.7 728.8 L2158 740.2 L2159.6 734.6 L2164.1 744 L2172.5 744.8 L2177.8 743.7 L2175.5 753.1 L2169.4 753.4 L2164.9 763.8 L2157.3 767.5 L2154.7 765.6 L2158 759.2 L2149.7 753.4 L2155 750.9 L2155.8 744Z M2142.9 760.3 L2151.2 763 L2152.7 768.3 L2143.6 777.4 L2145.1 780.4 L2136.8 782 L2133.8 789.6 L2130.7 793.4 L2124.7 797.9 L2114 796.4 L2106.4 792.3 L2110.2 786.5 L2115.5 782 L2133 775.1 L2136 769.1Z M1446.5 644 L1450 642.5 L1452.5 647.5 L1449 649.5Z M1459 640 L1465 641.5 L1461.5 644.5Z M1180.2 47.2 L1198.1 48.5 L1216.9 47.8 L1222.5 46.2 L1240 53.5 L1228.5 60 L1223.8 68.5 L1201.2 63.1 L1201 60.2 L1203.8 58.1 L1214.4 55.6 L1210 53.5 L1197.5 58.5Z M1228.1 45.6 L1236.2 43.1 L1273.8 43.1 L1285.6 46.5 L1270 50 L1256.2 51.5 L1246.2 51Z M1243.1 52.8 L1267.5 60.2 L1241.2 62.5Z"/></clipPath></defs>
<path d="M53.2 112.5 L82.5 121.2 L87 128.2 L90 123.8 L103.8 124.2 L114.5 129.2 L100 133 L98.2 139.5 L91.2 139.5 L80 137 L75 133.2 L62.5 132.5 L57.5 127.5 L53.2 135.5Z M53.2 97.5 L60 96.2 L68.2 99.5 L53.8 101.2Z M311.2 176.2 L317.5 175 L322.5 187Z M327.5 187.5 L331.2 186.2 L337.5 196.2Z M330.5 202 L333.8 199.2 L340 200 L338.8 207.5 L343.2 212.5Z M357.5 219.2 L370 220.8 L386.2 228.8 L392.5 235 L382.5 233.8Z M112.5 193.2 L122.5 196.2 L115 198.8Z M93.8 203.2 L107.5 201.2 L108.2 203.2 L97.5 204.5Z M384.2 80 L425 80.5 L436.2 85.8 L391.2 99.2 L375 93.8Z M417.5 93.8 L436.2 85.8 L450 86.2 L470 94.5 L488.8 83.2 L500 95 L527.5 110 L462.5 115.5 L425 107 L456.2 102.5 L420 99.5Z M391.2 68.8 L425 61.2 L436.2 62.5 L417.5 73.8Z M422.5 74.2 L436.2 67.5 L467.5 71.2 L466.2 67 L475 65.5 L495 70 L495 73.8 L485 76.2 L447.5 80.5 L442.5 78 L457.5 75.5Z M437.5 60 L452.5 55 L467.5 53.8 L472.5 56.2 L467.5 61.2 L452.5 62.5Z M501.2 66.2 L541.2 66.2 L544.5 76.2 L520 74.5 L502.5 70.8Z M510 88.8 L521.2 83.8 L544.5 82 L547.5 94.5 L535 99.5Z M618.2 391 L620 384.8 L632.5 382.2 L681.2 397.2 L680 401 L663.8 403 L657.5 397.2 L635 388 L626.2 389.8 L623.8 393.5Z M624.5 394.8 L626.2 393.5 L628 398Z M655 372.2 L657.5 371 L661.8 379.8 L659.5 380.5Z M654.2 412.2 L658.8 410.5 L670 412.2 L667.5 415.5 L660 414.8Z M679.5 409.8 L685 404.8 L692.5 403 L705 407.2 L713.8 411.8 L680 411Z M690 392.2 L695 390.5 L698.8 393.5Z M721.2 409.8 L730 413.5 L722.5 414.2Z M755 457.2 L761.2 456 L760 461 L755 460.5Z M751.2 414.5 L754 415.5 L753.2 417.8 L751.2 417Z M753.8 420.8 L756.5 421.8 L755.8 424 L753.8 423.2Z M755.8 427 L758.5 428 L757.8 430.2 L755.8 429.5Z M757.5 434.5 L760.2 435.5 L759.5 437.8 L757.5 437Z M755 442 L757.8 443 L757 445.2 L755 444.5Z M765 441.5 L767.8 442.5 L767 444.8 L765 444Z M752.5 448.2 L755.2 449.2 L754.5 451.5 L752.5 450.8Z M735 410.8 L737.8 411.8 L737 414 L735 413.2Z M746.2 412 L749 413 L748.2 415.2 L746.2 414.5Z M760.8 829.5 L764.5 826.2 L766.2 830Z M767 828 L771.2 824.2 L778.8 826.2 L771.2 832Z M679.5 777 L683.8 770 L685.2 776.2 L681 778Z M678.8 790 L683 781.2 L684.5 787.5 L680.2 791Z M673.8 812.5 L677.5 804.5 L679 810.8 L675.2 813.5Z M673.8 825 L677.5 820 L679 826.2 L675.2 826Z M677.5 833.8 L690 840 L691.5 846.2 L679 834.8Z M693.8 843.8 L702.5 846.2 L704 848.2 L695.2 844.8Z M705 847 L713 849.5 L714.5 851.5 L706.5 848Z M818.8 527.8 L821.2 522 L832.5 523.5 L827.5 530.2Z M798.8 32.5 L803.8 37.5 L805 32 L895 27.5 L1006.2 25 L1011.2 29.2 L960 37.5 L1007.5 36.2 L987.5 39.5 L991.2 42.5 L1035 34.2 L1055 39.5 L1045 43 L1027.5 42.5 L1026.2 46.2 L993.8 52.5 L995 54.5 L1013.8 53.8 L1015.5 65.5 L993.8 62.5 L987.5 71.2 L1012.5 70.8 L1002.5 87 L975 88 L977.5 92.5 L985 90.5 L997.5 96.2 L991.2 105.5 L963.8 96.2 L948.8 103.8 L983.8 107.5 L942.5 118.2 L927.5 116.2 L900 131.2 L893.8 130 L880 142.5 L865 166.2 L836.2 161.2 L835 162.5 L812.5 140 L810 135 L803.8 130 L800.5 122.5 L805 115 L815 113.8 L816.8 108.8 L800 109.5 L793.8 104.5 L808.8 100.8 L805 97.5 L792.5 98 L785 78.8 L772.5 73 L757.5 70.8 L700 67.5 L696.2 62.5 L726.2 63.8 L726.8 60.8 L692.5 58.8 L688.8 55.5 L735 50 L733.8 45.8 L722.5 45Z M978.8 128 L990 126.2 L997.5 130 L1026.2 126.2 L1037.5 133.8 L1038.8 137.5 L1007.5 146.2 L985 141.2 L990 133.8Z M575 36.2 L620 31.2 L670 28 L757.5 32 L700 47.5 L670 50 L676.2 53 L670 58.8 L655 62 L637.5 62.5 L660 65.8 L650 68.8 L595 72.5 L587.5 67 L602.5 64.5 L596.2 61.2 L626.2 52.5 L607.5 45 L642.5 48.2 L625 43.8Z M545 45 L562.5 41.2 L610 48.8 L587.5 58.8 L560 53.8Z M547.5 64.2 L595 72.5 L648.8 73.8 L642.5 78.8 L615 79.5 L577.5 78Z M536.2 53.2 L557.5 55.5 L556.2 59.5 L541.2 58.8Z M520 67.5 L541.2 66.2 L544.2 76.2 L520 75 L510 71.2Z M552.5 81.2 L585 82 L575 87.5 L565 88.8 L562.5 94.5 L553.8 94.5Z M586.2 92.5 L593.8 86.2 L616.2 83.8 L606.2 88.8 L615 98.2 L618 93.8 L612.5 87.5 L637.5 83.8 L641.8 92 L670 90 L695 96.2 L716.2 103 L716.8 113.8 L748 127 L745 135 L722.5 123.8 L716.8 130.8 L737.5 142 L734.5 149.2 L712.5 141.2 L711.2 145 L728.8 152.5 L728 154.5 L692.5 142.5 L672.5 137.5 L658.8 139.2 L656.2 136.2 L660 132.5 L672.5 133 L692.5 122.5 L675 113.8 L637.5 110 L613.8 108.2 L588.8 100Z M766.2 238.8 L775 233.8 L782.5 216.2 L791.2 215 L785 222.5 L791.2 228 L802.5 228 L803.8 236.2 L807.5 238.8 L806.2 243.8 L797.5 240 L792.5 242 L788.8 238.8Z M284.2 109.5 L250 105 L225 102 L192.5 99.2 L175 101.2 L155 105 L133.8 112.5 L133.8 115.5 L164.2 126.2 L160 130.5 L143.8 125 L123.2 132 L141.8 138.2 L165.5 136.2 L167.5 143.8 L146.2 146.8 L134.5 155 L147.5 166.2 L159.2 164.2 L161.2 173.2 L180.5 171.2 L185.5 179.5 L142.5 198 L166.2 195 L212 173.2 L206.5 170.8 L220 161.2 L232.5 157.5 L221.2 163.8 L220.8 170.8 L250 161.2 L282.5 167 L307.5 172.5 L347.5 197.5 L357.5 207.5 L392.5 230 L381.2 234.2 L386.2 247.5 L382.5 266.2 L384.5 280 L393.8 296 L393.8 296 L397.5 302.2 L402.3 310 L405.3 315.3 L419 320.3 L425.8 327.5 L433.4 343.4 L444.5 353.5 L438.4 356.4 L446.4 361.7 L454.7 364.7 L455.5 374.6 L461.6 379.9 L467.6 385.6 L472.6 382.6 L466.1 373.8 L449.4 349.5 L440.3 342.7 L440.3 332.4 L449.8 339.6 L456.2 351 L474.5 369.3 L493.5 387.1 L494.6 400 L495.5 404.2 L547.5 428 L562.5 424.8 L575 433 L587.5 446 L605 453.5 L611.2 461 L615 464 L627.5 468.5 L630 472.2 L636.2 471 L640 474.8 L650 478 L660 478.5 L661.2 496 L655 508.5 L646.2 517.2 L641.2 528.5 L640 536 L645 543.5 L637.5 546 L640 554.8 L650 571 L663.8 592 L663.8 592 L670 605.2 L677.5 612.8 L703.8 629 L703 651.5 L702.5 670 L696.2 695 L695.5 718.8 L684.5 742.5 L685.8 756.2 L681.8 765 L690 768.8 L685 792.5 L671.8 797 L681.2 798.8 L677.5 810 L672.5 817.5 L673.8 826.2 L678.8 832.5 L692.5 840 L700 841.2 L702.5 846.2 L713.8 849.5 L713 846.2 L733.8 845 L715 835 L713 832 L701.2 832.5 L700 836.2 L696.2 835 L700 832.5 L715 831.2 L709.2 822.5 L720 810 L731.2 803.8 L728.8 797.5 L720 797 L722.5 790 L730 786.2 L742.5 773.8 L742.5 771.2 L736.2 772.5 L733.8 763.8 L750.5 763 L751.2 752 L780 745.8 L785.5 738 L780 735 L781.2 728.8 L775 724.5 L772.5 718.8 L775.5 724.5 L793.8 727.5 L803.8 720 L802 717 L807.5 715 L820 706.2 L822.5 697.5 L831.2 688.8 L832.5 670 L856.2 657.8 L871.2 656.5 L888 626.5 L890 599 L906.2 581 L914.5 567.8 L910 551.5 L883.8 539 L860 535.2 L855 529 L835 524.5 L826.2 535.2 L828.8 530.2 L820 531.5 L818.8 526 L808.8 530.2 L824.5 511 L820 501.5 L810 490.2 L796.2 485.2 L778.8 484 L765 472.8 L755 461 L745 458 L735 461 L720 457.2 L712.5 453 L702.5 453.5 L697 456 L697 466 L695 466 L693.8 456 L698.8 449.8 L695 446.5 L680 452.2 L665 463.5 L661.2 468.5 L655 464 L640 464 L632.5 466 L625 457.2 L616.2 456 L623.8 456 L625 446 L626.2 432.2 L613.8 426.5 L600 427.2 L593.8 426 L596.2 421 L600 409.8 L605 393.5 L585 396 L580 408.5 L560.5 413 L548.8 406 L540.5 389.8 L542.8 367 L545.5 354 L562.5 345.5 L592.5 348.5 L586.2 342.2 L607.5 340.5 L616.2 344.8 L621.2 342.2 L641.2 372.2 L645 369.8 L645.5 361 L637.5 339.8 L642.5 328.5 L673.8 310.5 L666.2 296 L675 296 L682.5 277.5 L705 273.8 L698.8 271.2 L705 262.5 L722.5 255 L740 250.8 L728.8 256.2 L730 262.5 L758.8 251.2 L765.8 247.5 L762.5 242.5 L755 251.2 L732.5 241.2 L737.5 237 L725 235.8 L736.2 235 L740 231.2 L727.5 229.2 L710 236.2 L700 242.5 L708.8 235 L727.5 223.8 L766.2 222.5 L782.5 215 L790 212.5 L788.8 203.8 L780 198.8 L763.8 205.5 L760 203 L780 197.5 L766.2 195 L756.2 187.5 L755 181.2 L736.2 162.5 L721.2 175 L706.2 167 L707 158.8 L683.8 150 L657.5 151.2 L662.5 166.2 L653.2 172.5 L663.8 178 L667.5 186.2 L648.2 196.2 L655.8 211.2 L645 217.5 L633 206.2 L632.5 195 L615 193 L582.5 181.2 L571.2 183.2 L568.8 173.8 L559.5 172.5 L558.8 162.5 L566.2 154.5 L583.8 147 L563.8 141.2 L583.8 145 L602.5 133.8 L580 129.2 L606.2 135 L603.8 142.5 L613.8 146.2 L625 141.2 L645 143.8 L610 130 L606.2 126.2 L637.5 123.8 L637.5 111.2 L613.8 108.2 L616.2 113.8 L601.2 122.5 L580 110 L576.2 103.8 L565 96.2 L555 95 L547 105 L565.5 114.5 L553.8 121.8 L526.2 117 L523.8 120 L490 117 L473.8 118.8 L468 125 L457.5 120 L433.8 120 L433.8 115.8 L395 108.2 L386.2 111.2 L372.5 106.2 L370 108 L352.5 107.5 L312.5 113 L284.2 109.5Z M1412.5 591.2 L1420 611.2 L1418.1 615 L1415 613.8 L1413.8 622.5 L1408.8 638.8 L1402.5 658.8 L1400 667.5 L1390 672.5 L1381.2 670 L1379.4 660 L1375.6 653.1 L1382.5 641.2 L1380.6 622.5 L1383.8 616.2 L1397.5 612.5 L1401.2 609.4Z M1375.2 590.6 L1384.4 591 L1380 595.6 L1376.2 593.8Z M1091.9 172.4 L1098.8 172 L1099.4 175.8 L1108.8 179.2 L1106.9 188.2 L1128.8 208.2 L1123.1 217 L1125 220.6 L1106.2 220.6 L1086.2 224.4 L1100 215.8 L1093.8 213.9 L1093.1 207 L1101.2 206.4 L1097.5 196.4 L1091.9 196.4 L1085.6 185.5Z M1058.8 199.5 L1072.5 193.2 L1080 193.2 L1086.2 197.6 L1086.9 200.1 L1083.1 201.4 L1081.2 209.5 L1071.2 213.2 L1058.8 215.5 L1063.8 208.2 L1063.1 203.2 L1060 201.4Z M1186.9 189.5 L1193.1 188.2 L1194.4 195.1 L1190 197 L1186.2 194.5Z M1193.8 295 L1211.2 295 L1211.2 300 L1208.1 304.4 L1193.8 297.5Z M1203.1 306.2 L1207.5 307.5 L1205 310.6Z M1170.6 268.1 L1175.6 266.2 L1176.2 271.9 L1173.1 274.4Z M1168.8 278.1 L1175 276.2 L1177.5 282.5 L1176.2 289.4 L1169.4 290.6Z M1259.4 310.6 L1275 312.5 L1268.8 314.4 L1260.6 313.1Z M1310.6 312.5 L1322.5 311.2 L1317.5 315 L1312.5 315.6Z M1422.5 93.2 L1438.8 85.8 L1454.4 87.6 L1448.1 94.5 L1463.1 103.2 L1437.5 102Z M1438.8 83.2 L1463.8 72 L1497.5 67 L1497.5 72 L1462.5 85.1Z M1763.8 411.2 L1768.1 402.5 L1777.5 402.5 L1776.2 410 L1770 413.8Z M1831.2 388.1 L1833.1 378.8 L1839.4 372.5 L1842.5 374.4 L1840 382.5Z M1833.8 418.8 L1835 411.2 L1838.8 408.8 L1845 411.2 L1846.2 420 L1842.5 433.8 L1848.1 440 L1846.2 442.5 L1836.2 438.8 L1833.1 433.8 L1836.2 427.5Z M1842.5 450 L1848.8 452.5 L1843.1 458.8Z M1856.9 446.2 L1862.5 446.2 L1864.4 455 L1860 452.5Z M1846.2 462.5 L1850 456.2 L1850.6 466.2Z M1814.4 471.9 L1828.8 453.8 L1831.2 458.8 L1817.5 468.8Z M1842.5 480 L1846.2 472.5 L1852.5 470 L1857.5 471.2 L1863.8 463.1 L1868.8 468.8 L1870.6 477.5 L1863.8 488.1 L1856.2 483.8 L1855 476.2 L1848.8 475Z M1850.6 446.9 L1855 448.8 L1860 457.5 L1863.1 462.5 L1860 461.2 L1856.9 456.2Z M1961.2 200.5 L1966.2 198 L1977.5 233 L1968.8 231.8 L1965 240.5 L1970 246.8 L1962.5 248 L1958.8 233Z M1958.8 251.8 L1962.5 250.5 L1972.5 258 L1983.8 257.2 L1982.5 266.8 L1975 265.5 L1968.8 271.8 L1955 270.5 L1950 273 L1948.8 269.2 L1951.2 264.2 L1958.8 260.5Z M1955 274.2 L1962.5 285.5 L1956.2 294.2 L1953.8 311.8 L1933.8 315.5 L1927.5 323 L1923.8 321.8 L1921.2 316.8 L1902.5 321.8 L1896.2 320.5 L1895 316.8 L1902.5 310.5 L1923.8 308 L1930 303 L1931.2 297.5 L1933.8 301.8 L1950 290.5 L1950 278Z M1886.2 323 L1895 319.2 L1902.5 323 L1897.5 336.8 L1888.8 334.2 L1890 328Z M1905 320.5 L1916.2 317.5 L1917.5 321.8 L1907.5 326Z M1593.1 467.5 L1594.8 461.9 L1600 466.9 L1605 475 L1603.8 481.2 L1598.8 485 L1593.8 482.5 L1591.9 475Z M1129.4 218.9 L1143.8 213.9 L1151.2 204.8 L1162.5 204.5 L1173.1 200.8 L1170.6 197.6 L1167.5 190.1 L1168.8 183.2 L1182.5 178.5 L1183.8 182 L1181.2 183.2 L1185 188.2 L1185 195.8 L1180 197.6 L1188.8 200.1 L1196.2 197 L1205 201.4 L1230 195.8 L1233.8 199.5 L1236.9 193.9 L1243.1 193.2 L1243.8 188.9 L1248.1 179.5 L1249.4 175.8 L1257.5 178.9 L1260.6 182.6 L1264.4 180.8 L1262.5 178.2 L1270 176.4 L1249.4 173.2 L1256.2 170.8 L1285 165.8 L1299.4 165.1 L1282.5 162 L1256.2 167.6 L1250 165.8 L1246.2 162 L1247.5 155.8 L1245 148.9 L1270.6 136.4 L1270 133.2 L1252.5 131.4 L1247.5 134.5 L1248.8 139.5 L1245 142.6 L1223.8 150.8 L1222.5 161.4 L1233.8 166.8 L1220.6 173.2 L1220 182.6 L1216.9 187.6 L1206.2 189.5 L1200 193.2 L1186.9 172 L1187.5 170.1 L1182.5 168.2 L1166.2 178.5 L1155 173.9 L1151.9 170.8 L1147.5 154.5 L1171.2 142.2 L1176.2 144.5 L1178.8 138.2 L1212.5 114.5 L1231.2 105.1 L1243.8 105.1 L1253.8 100.8 L1253.8 100.1 L1287.5 98.9 L1305 103.2 L1321.2 109.5 L1363.8 119.5 L1366.2 123.9 L1356.2 128.9 L1342.5 129.5 L1327.5 127 L1313.8 123.2 L1326.2 129.5 L1327.5 138.2 L1342.5 143.5 L1336.9 135.8 L1357.5 137 L1355 132.6 L1370.6 126.4 L1377.5 113.2 L1396.9 113.2 L1391.2 124.5 L1401.9 124.5 L1403.1 117.6 L1440 110.1 L1481.2 112 L1466.2 104.5 L1490 105.1 L1520 113.2 L1525 115.5 L1528.8 113 L1516.2 108.8 L1515.5 100 L1531.2 88 L1552.5 89.5 L1547 96.2 L1552.5 99.5 L1550 111.2 L1556.2 115 L1537.5 127.5 L1547.5 127.5 L1562.5 117 L1561.2 113.8 L1572.5 112 L1580 119.5 L1588.8 120 L1580 117.5 L1575 111.2 L1557.5 110 L1555 103.8 L1560 101.2 L1553.8 96.2 L1565 89.5 L1587.5 90.5 L1615 95.5 L1615 101.2 L1610 100 L1607.5 95.5 L1597.5 92 L1595 85.5 L1655 70 L1718.8 65.5 L1726.2 61.2 L1742.5 59.5 L1751.2 64.2 L1797.5 68 L1796.2 72.5 L1745 90 L1780 82 L1870 85.5 L1898.8 101.2 L1902.5 94.5 L1948.8 97 L1953 89.5 L2008.1 93.3 L2021.6 100.1 L2057.1 99.3 L2068.4 102.6 L2068.4 107.7 L2090.9 109.4 L2113.7 108 L2119.6 104.3 L2163.5 106.9 L2186.7 112.4 L2186.7 135.6 L2173.6 138.1 L2166.9 135.1 L2177 139.8 L2183.8 148.2 L2182.1 151.3 L2168.6 149.6 L2146.6 160.1 L2129.7 164.8 L2090.9 165.5 L2088.3 187.1 L2080.7 196.4 L2048.6 219.2 L2041 193.9 L2043.6 183.7 L2089.2 160.1 L2094.3 150.8 L2098.5 150.3 L2087.5 150.4 L2086.7 155.8 L2067.2 161.4 L2069.4 154.7 L2052 155.3 L2033.4 167.2 L2040.2 170.2 L2023.3 172.2 L1965.9 169.4 L1925.3 194.2 L1949 198.1 L1957.4 204.8 L1957.5 205.5 L1952.5 230.5 L1916.2 267.5 L1895 268.5 L1888.8 280.5 L1875 289.2 L1883.8 293 L1887.5 305.5 L1885 314.2 L1868.8 316.8 L1868.8 299.2 L1860 295.5 L1863.8 288 L1857.5 284.2 L1840 289.2 L1838.8 279.2 L1816.2 291 L1817.5 294.2 L1846.2 299.2 L1837.5 304.2 L1826.2 313 L1842.5 330.5 L1843.8 343 L1825 374.2 L1811.2 384.2 L1777.5 394.2 L1773.8 399.2 L1770 394.2 L1756.2 394.2 L1758.8 393.1 L1752.5 397.5 L1748.1 403.8 L1750 410 L1757.5 430 L1765.6 431.2 L1768.8 442.5 L1766.2 453.1 L1753.1 459.4 L1751.2 465.6 L1741.2 470 L1741.7 460.3 L1738.7 459.9 L1734.1 459.2 L1731.1 457.3 L1729.5 451.9 L1727.3 448.5 L1718.9 445.5 L1718.5 440.5 L1712.8 441.3 L1712.4 449.3 L1707.5 457.3 L1707.9 462.6 L1709 465.6 L1712.4 465.6 L1714.3 471.7 L1717.4 478.9 L1722.7 480.8 L1731.1 487.7 L1733.3 492.2 L1733.7 503.7 L1737.9 510 L1740 511.2 L1737 516.2 L1732.5 513 L1729.5 510 L1720.4 502.9 L1714.7 493 L1713.2 481.2 L1704.4 471.3 L1702.2 473.2 L1702.5 466.4 L1704.8 459.5 L1704.4 444.3 L1695.3 420 L1694.4 418.8 L1685 428.1 L1679.4 426.2 L1680 415 L1667.5 396.9 L1663.8 387.5 L1647.5 391.9 L1636.9 393.8 L1635.6 398.8 L1608.8 419.4 L1607.5 422.5 L1598.1 425.6 L1596.2 428.8 L1595 440 L1595 458.8 L1590 464.4 L1580 474.4 L1573.1 466.2 L1565 447.5 L1555 423.1 L1550.6 403.8 L1552.5 398.1 L1549.4 388.1 L1547.5 395 L1540 398.5 L1527.5 388.5 L1538.8 384.4 L1522.5 380.6 L1513.8 370.6 L1482.5 372.5 L1482.5 372.5 L1459.4 368.1 L1456.2 360 L1440 363.1 L1423.8 353.8 L1416.2 342.5 L1406.2 345 L1407.5 351.2 L1416.2 365 L1420.6 373.1 L1422.5 365.6 L1425.6 369.4 L1423.8 374.4 L1425 376.9 L1438.8 378.1 L1452.5 366.9 L1453.8 366.2 L1455.6 369.4 L1460 378.8 L1474.4 387.2 L1462.5 407.5 L1446.2 418.1 L1434.4 420.6 L1430 427.5 L1415 434.4 L1381.2 446.2 L1377.5 445.6 L1375.6 436.2 L1374.4 423.1 L1360 403.8 L1351.2 395 L1351.9 386.9 L1347.5 378.1 L1341.9 375 L1330 356.2 L1328.1 353.1 L1326.2 352.5 L1322.5 356.2 L1315 351.2 L1331.9 378.8 L1331.9 384.4 L1338.8 390 L1340 400 L1341.9 409.4 L1348.1 413.1 L1352.5 426.2 L1356.2 430 L1375.6 446.2 L1377.5 450 L1383.1 459.4 L1423.8 449.4 L1425.6 452.5 L1416.9 476.2 L1395 506.9 L1385 509.4 L1366.2 530 L1357.5 538.8 L1352.5 547.5 L1350 557.5 L1354.4 562.5 L1353.1 571.2 L1355 577.5 L1358.8 583.8 L1361.2 600 L1361.2 611.2 L1355 620 L1343.8 624.4 L1332.5 632.5 L1326.2 638.8 L1325.6 641.9 L1330 651.2 L1330.6 662.5 L1326.2 667.5 L1317.5 671.2 L1313.1 677.5 L1315.6 680 L1314.4 687.5 L1310.6 690 L1303.8 697.5 L1298.1 705 L1283.1 716.9 L1273.1 721.2 L1255 723.1 L1238.1 727.5 L1228.1 723.1 L1225 715.6 L1228.8 712.5 L1218.1 690.6 L1209.4 678.1 L1205 655.6 L1196.2 640 L1189.4 627.5 L1189.4 613.8 L1195 597.5 L1200 594.4 L1202.5 586.9 L1198.8 571.2 L1202.5 588 L1197.5 574.4 L1198.8 571.2 L1193.1 556.9 L1191.2 550 L1185.6 543.8 L1171.5 525.6 L1175 524 L1176.2 515 L1177.5 508.1 L1177.5 501.2 L1170.6 494 L1155.6 495 L1145 482.9 L1130 483.8 L1114.4 489.4 L1102.5 491.2 L1092.5 490 L1075 495.6 L1062.5 488.1 L1052.5 480.6 L1043.8 470.6 L1041.9 466.9 L1030 455.6 L1020.6 447.5 L1020 438.8 L1016.2 433.1 L1022.2 426.2 L1022.5 421.2 L1025.6 415 L1022.5 402.5 L1019.4 397.5 L1020 394.4 L1024.4 381.2 L1029.4 372.5 L1037.5 361.2 L1043.1 356.2 L1055 350.6 L1061.9 344.4 L1062.5 340 L1062.5 343.8 L1061.9 335 L1065 328.8 L1070 323.8 L1086.2 308.1 L1096.2 312.5 L1106.2 312.5 L1128.8 303.8 L1141.2 302.5 L1161.2 301.9 L1171.2 301.2 L1177.5 299.4 L1185 301.2 L1185.6 312.5 L1180.6 315 L1179.4 319.4 L1181.9 321.9 L1188.8 325 L1207.5 328.8 L1232.5 341.2 L1237.5 339.4 L1239.4 335.6 L1237.5 331.2 L1247.5 325.6 L1253.8 326.2 L1240 330 L1248.1 325.6 L1256.2 327.5 L1268.1 333.1 L1290 338.1 L1295 336.9 L1302.5 333.8 L1315 335.6 L1322.5 335.6 L1325 340 L1325 340 L1327.5 328.8 L1328.8 322.5 L1333.1 316.2 L1332.5 308.1 L1315 306.2 L1302.5 305.6 L1288.8 306.2 L1281.2 300 L1276.2 292.5 L1274.4 285 L1277.5 281.2 L1296.2 278.8 L1276.2 276.2 L1276 277.1 L1260.8 279.8 L1263.1 282.4 L1262.3 284.3 L1260.4 284 L1258.5 283.2 L1254.3 280.5 L1258.1 288.5 L1256.6 290 L1262.3 293.5 L1263.5 296.9 L1258.5 296.9 L1256.2 299.5 L1257.4 305.2 L1254.7 301.8 L1253.6 305.6 L1250.2 300.7 L1248.6 303.3 L1245.6 295.4 L1244.8 293.8 L1239.5 286.2 L1234.6 282.4 L1234.2 270.3 L1231.2 268.8 L1220 267.5 L1211.2 261.2 L1207.5 256.2 L1200 252.5 L1197.5 250.6 L1195 256.2 L1198.1 263.1 L1202.5 268.8 L1223.8 278.1 L1230 282.5 L1223.8 282.5 L1220 285 L1222.5 288.1 L1220 291.9 L1213.8 296.2 L1212.5 283.8 L1193.1 274.4 L1180 262.5 L1172.5 261.2 L1163.8 262.5 L1155.6 266.2 L1140.6 264.4 L1138.1 268.1 L1139.4 269.4 L1138.1 272.5 L1128.8 276.9 L1118.1 288.1 L1120 291.2 L1116.9 296.2 L1108.8 302.8 L1094.4 303.1 L1086.2 308.1 L1078.8 301.2 L1076.2 302.5 L1066.2 301.2 L1067.5 293.8 L1062.5 291.2 L1068.8 280 L1067.5 271.2 L1064.4 265.6 L1071.2 260.6 L1108.8 263.8 L1113.8 263.8 L1110 262.5 L1113.5 251.2 L1104.4 239.4 L1093.1 235.6 L1091.9 233.1 L1110 231.2 L1111.9 231.9 L1110 227.5 L1125 225.6 L1130 220Z M2178.4 98.4 L2186.7 97.2 L2186.7 100.1 L2178.7 102.6Z M1663.8 48.8 L1667.5 40 L1685 37 L1715 47 L1709.5 53.8 L1680 51.2Z M1707.5 58 L1727.5 49.5 L1744.5 53.8 L1744.5 56.2Z M1932.5 74.2 L1941.2 69.2 L1981.2 72.5 L1978.8 77 L1940 78Z M1984.5 75 L2016.2 73.2 L2013.8 77.5 L1990 76.8Z M1681.2 488.8 L1697.5 491.2 L1717.5 512.5 L1742.5 537.5 L1745.5 547.5 L1739.5 551.2 L1715 536.2 L1713.8 527.5 L1695 505 L1693.8 500Z M1742.5 531.2 L1747.5 529.5 L1752.5 539.5Z M1756.2 537.5 L1760.5 536.2 L1761.2 540 L1757 540.5Z M1744.5 559.5 L1751.2 555.5 L1780 557.5 L1802.5 564.5 L1802 567.5 L1790 570.5 L1755 563Z M1811.2 572 L1822.5 572.5 L1815 574Z M1826.2 578 L1833.8 580 L1830 580.5Z M1832.5 572 L1847.5 571.2 L1848 572.5 L1835 573.2Z M1852.5 578.8 L1865 572.5 L1871.2 572 L1866.2 575 L1855 580Z M1765 515 L1768.8 508.8 L1777.5 511.2 L1780 503.8 L1790 501.2 L1796.2 492.5 L1802.5 491.2 L1813.8 478.8 L1817.5 486.2 L1827.5 488.8 L1820 492.5 L1823.8 495 L1817 496.2 L1817.5 508.8 L1825 515 L1818.8 516.2 L1817.5 526.2 L1810 528.8 L1807.5 543.8 L1790 544.5 L1773.8 537.5 L1766.2 523.8Z M1827.5 553.8 L1828.8 542.5 L1825 538.8 L1826.2 526.2 L1832.5 515 L1840 512.5 L1855 516.2 L1862.5 511.2 L1858.8 517.5 L1850 520 L1835 518.8 L1831.2 528.8 L1836.2 528.8 L1845 523.8 L1852.5 526.2 L1851.2 531.2 L1842.5 531.2 L1843.8 538.8 L1852.5 543.8 L1851.2 553.8 L1843.8 553.8 L1836.2 537.5 L1833.8 553.8Z M1873.8 518.8 L1877.5 506.2 L1881.2 505 L1882.5 517.5 L1880 530 L1875 531.2 L1872.5 526.2Z M1866.2 540 L1872.5 539.2 L1873.8 542.5 L1868.8 543Z M1877.5 541.2 L1880 537.5 L1893.8 537.5 L1895.5 543 L1888.8 541.2 L1880 542.5Z M1892.5 525 L1905 523 L1915 525.5 L1913.8 533.8 L1920 540 L1927.5 533.8 L1937.5 529.5 L1955.5 536.2 L1980 543.8 L1983.8 548.8 L1986.2 555 L1995 556.2 L1996.2 561.2 L1990 562.5 L2015 582.5 L2011.2 584.5 L2000 581.2 L1987.5 570 L1980 566.2 L1967.5 576.2 L1955.5 575 L1955.5 575 L1955.5 570 L1935 570.5 L1942.5 561.2 L1937.5 552.5 L1926.2 547.5 L1905 543.8 L1901.2 537.5 L1908.8 535.5Z M1998.8 555 L2012.5 551.2 L2020 545 L2026.2 543.8 L2027.5 547.5 L2022.5 550 L2015 556.2 L2005 558.8Z M2012.5 536.2 L2025 542.5 L2026.2 544.5 L2013.8 537.5Z M2106.2 608.2 L2110 610 L2113 615 L2108.8 613.8Z M2091.2 640.8 L2095 640 L2108.8 651.2 L2105 650.5Z M1903.8 586.2 L1921.2 593 L1931.2 585.5 L1931.2 592.5 L1923.8 607.5 L1953.8 625.5 L1957.5 602.5 L1964.2 585 L1970 596.2 L1981.2 608.8 L1987.5 633.8 L2000 641.2 L2007.5 655 L2012.5 653.8 L2027.5 671.2 L2030.8 691.2 L2023.8 711.2 L2007.5 743.8 L1998.8 745 L1988.8 752.5 L1967.5 750 L1952.5 746.2 L1946.2 731.2 L1931.2 728.8 L1937.5 716.2 L1924.5 728 L1911.2 711.2 L1896.2 707 L1866.2 712 L1850 722 L1830 721.2 L1816.2 728.8 L1801.8 724.5 L1805 711.2 L1802 696.2 L1791.2 673.8 L1796.2 677.5 L1793.8 670 L1791.2 663.8 L1794.5 648.8 L1810 642.5 L1838 637.5 L1845 620 L1848.8 618.8 L1852.5 623.8 L1860 607.5 L1871.2 602.5 L1878.8 607.5 L1886.2 607.5 L1890 598.8Z M1976.4 763 L1978.9 762.2 L1987.3 764.5 L1996.4 761.9 L1998.7 763.8 L1997.1 774.4 L1990.3 779.7 L1985 778.2 L1981.2 772.9Z M2143.3 724.3 L2152.7 728.8 L2158 740.2 L2159.6 734.6 L2164.1 744 L2172.5 744.8 L2177.8 743.7 L2175.5 753.1 L2169.4 753.4 L2164.9 763.8 L2157.3 767.5 L2154.7 765.6 L2158 759.2 L2149.7 753.4 L2155 750.9 L2155.8 744Z M2142.9 760.3 L2151.2 763 L2152.7 768.3 L2143.6 777.4 L2145.1 780.4 L2136.8 782 L2133.8 789.6 L2130.7 793.4 L2124.7 797.9 L2114 796.4 L2106.4 792.3 L2110.2 786.5 L2115.5 782 L2133 775.1 L2136 769.1Z M1446.5 644 L1450 642.5 L1452.5 647.5 L1449 649.5Z M1459 640 L1465 641.5 L1461.5 644.5Z M1180.2 47.2 L1198.1 48.5 L1216.9 47.8 L1222.5 46.2 L1240 53.5 L1228.5 60 L1223.8 68.5 L1201.2 63.1 L1201 60.2 L1203.8 58.1 L1214.4 55.6 L1210 53.5 L1197.5 58.5Z M1228.1 45.6 L1236.2 43.1 L1273.8 43.1 L1285.6 46.5 L1270 50 L1256.2 51.5 L1246.2 51Z M1243.1 52.8 L1267.5 60.2 L1241.2 62.5Z" fill="#f0f0f0" stroke="none"/>
<g clip-path="url(#landclip)" stroke="#000" stroke-width="1" stroke-linejoin="round" shape-rendering="crispEdges">
<path d="M661.2 477.8 L660 467.8 L657.5 459 L680 446.5 L696.2 442.8 L702.5 447.8 L698.8 449.5 L685 466.5 L692.5 479 L720 483.2 L718.8 496.5 L721.2 503.2 L707.5 510.2 L707 514 L710 514.5 L709.5 517 L704.5 517.8 L708.8 529 L707.5 537.8 L705 545.2 L700 544 L703.8 536.5 L696.2 534.5 L685 535.2 L673.8 522.8 L660 518.5 L651.2 512.8 L646.2 510.2 L655 494 L656.2 479Z" fill="#87ceeb"/>
<path d="M698.8 449.5 L702.5 447.8 L710 449 L735 456.5 L746.2 454 L757.5 457.8 L770 471.5 L765 472.8 L757.5 481.5 L762.5 490.2 L750 496.5 L745 500.2 L736.2 495.2 L743.8 506.5 L732.5 516.5 L725 514 L721.2 503.2 L718.8 496.5 L720 483.2 L692.5 479 L685 466.5Z" fill="#87ceeb"/>
<path d="M651.2 512.8 L660 518.5 L673.8 522.8 L673.8 526.5 L655 544 L648.8 549 L643.8 542.8 L637.5 545.2 L633.8 544 L637.5 531.5 L640 519 L646.2 510.2Z" fill="#87ceeb"/>
<path d="M637.5 545.2 L643.8 542.8 L648.8 549 L655 544 L673.8 526.5 L673.8 522.8 L685 535.2 L696.2 534.5 L703.8 536.5 L700 544 L705 545.2 L690 549 L683.8 561.5 L695 579 L701.8 577 L701.8 586.5 L708.8 587 L713 596.5 L710 614 L712.5 617.8 L708.8 625.2 L703.8 629 L700 631.5 L675 616.5 L665 606.5 L645 564 L635 554 L633.8 544Z" fill="#87ceeb"/>
<path d="M708.8 587 L732.5 577.8 L732.5 591.5 L740 596 L760 602 L763.8 616.5 L774.5 618.5 L775 624 L780 629 L776.2 637.8 L767.5 635.2 L753.8 637.8 L748.8 650.2 L740 656.5 L738 652.8 L727.5 650.2 L721.2 656.5 L715 644 L709.2 626.5 L703.8 629 L708.8 625.2 L712.5 617.8 L710 614 L713 596.5Z" fill="#87ceeb"/>
<path d="M776.2 637.8 L780 651.5 L790 652.8 L791.2 662.8 L798.8 664 L797.5 670.2 L796.2 677.8 L786.2 680.2 L775 680.2 L778.8 671.5 L767.5 664 L757.5 656.5 L748.8 650.2 L753.8 637.8 L767.5 635.2Z" fill="#87ceeb"/>
<path d="M721.2 656.5 L727.5 650.2 L738 652.8 L740 656.5 L748.8 650.2 L757.5 656.5 L767.5 664 L778.8 671.5 L775 680.2 L786.2 680.2 L796.2 677.8 L797.5 670.2 L803.8 676.5 L792.5 687.8 L781.2 699 L777.5 703.8 L775.5 708.8 L772.5 718.8 L775 724.5 L783.8 731.2 L790 738.8 L782.5 748.8 L753.8 755 L753.8 765 L746.2 770 L746.2 775 L735 790 L735 805 L722.5 815 L716.2 832.5 L713 832.5 L700 832.5 L693.8 828.8 L691.8 822.5 L685.8 820 L684.2 813.8 L697 788.8 L693.8 777.5 L695 760 L700 747.5 L698.8 738.8 L706.2 716.2 L705 697.5 L712 681.2 L713.8 667.5Z" fill="#87ceeb"/>
<path d="M713 835 L735 845.5 L713.8 847.5Z" fill="#87ceeb"/>
<path d="M1015 433.1 L1022.2 426.2 L1025 425 L1033.1 422.5 L1046.9 433.1 L1048.8 432.5 L1053.8 428.1 L1068.1 429.4 L1087.5 428.1 L1085.6 405 L1081.2 372.8 L1091.9 372.2 L1140 408.1 L1145.6 407.5 L1155 405 L1161.2 400 L1187.5 383.8 L1191.2 381.9 L1205 385.6 L1210 384.4 L1212.5 392.5 L1214.4 401.2 L1211.2 415 L1202.5 430 L1199.4 436.9 L1200 440 L1205 443.8 L1206.9 450 L1200 460 L1192.5 473.8 L1187.5 481.9 L1180 480 L1171.2 493.1 L1170.6 497.5 L1155.6 498.8 L1145 486.2 L1130 487.5 L1114.4 492.5 L1102.5 494.4 L1092.5 493.1 L1075.6 497.5 L1075.6 487.5 L1070 483.1 L1070 477.5 L1071.9 473.1 L1072.5 466.2 L1072.5 460.6 L1066.2 447.8 L1051.9 447.2 L1046.2 447.8 L1037.5 445.6 L1020.6 447.5 L1015 445Z" fill="#87ceeb"/>
<path d="M1042.5 467.5 L1050 461.2 L1053.8 461.9 L1058.8 470 L1052.5 480 L1043.8 470.6Z" fill="#87ceeb"/>
<path d="M1171.2 493.1 L1180 480 L1187.5 481.9 L1192.5 473.8 L1200 460 L1206.9 450 L1205 443.8 L1207.5 447.5 L1210 460 L1212.5 461.2 L1202.5 463.8 L1211.2 475.6 L1217.5 476.2 L1226.2 475 L1233.1 471.2 L1231.2 467.5 L1242.5 465 L1248.8 457.5 L1254.4 456.2 L1250.6 437.5 L1255.6 427.5 L1261.9 427.5 L1261.9 404.4 L1262.5 401.9 L1268.8 401.9 L1268.8 390 L1316.2 390 L1319.4 392.5 L1325 389.4 L1331.9 384.4 L1336.2 383.1 L1343.8 390 L1343.8 400 L1346.2 408.8 L1352.5 412.5 L1356.2 426.2 L1365 435 L1377.5 445 L1375.6 446.9 L1375.6 446.9 L1370.6 447.5 L1367.5 452.5 L1372.5 456.9 L1380 466.9 L1403.8 473.5 L1387.5 490.6 L1367.5 496.2 L1362.5 504.4 L1363.1 525.6 L1366.2 530 L1370 531.2 L1360 541.2 L1355.6 548.8 L1356.2 547.5 L1353.8 557.5 L1358.1 562.5 L1356.9 571.2 L1358.8 577.5 L1362.5 583.1 L1365 600 L1365 611.2 L1358.8 622.5 L1345 627.5 L1335 635 L1330 640 L1333.8 651.2 L1334.4 663.8 L1328.8 670 L1320 673.8 L1316.2 677.5 L1317.5 681.2 L1313.8 676.2 L1309.4 670.6 L1305 653.1 L1305 653.1 L1296.2 653.8 L1291.9 652.5 L1282.5 641.2 L1275 635 L1270.6 626.9 L1268.1 626.2 L1245 629.4 L1245 650.6 L1238.8 651.2 L1238.8 651.2 L1238.8 690 L1227.5 691.2 L1220.6 687.5 L1218.1 690.6 L1215 692.5 L1206.2 678.8 L1201.9 655.6 L1193.1 640 L1186.2 627.5 L1186.2 613.8 L1192.5 596.2 L1197.5 593.1 L1200 586.9 L1195.6 571.2 L1190 556.9 L1190 557.5 L1191.9 551.9 L1195 548.8 L1204.4 546.2 L1206.2 550 L1215 541.2 L1216.2 533.8 L1226.2 520 L1230 500 L1218.8 500 L1216.2 503.1 L1215 511.2 L1210 509.4 L1198.8 508.1 L1187.5 508.1 L1177.5 508.1 L1174.4 508.1 L1174.4 501.2 L1168.8 496.2Z" fill="#87ceeb"/>
<path d="M1412.5 591.2 L1420 611.2 L1418.1 615 L1415 613.8 L1413.8 622.5 L1408.8 638.8 L1402.5 658.8 L1400 667.5 L1390 672.5 L1381.2 670 L1379.4 660 L1375.6 653.1 L1382.5 641.2 L1380.6 622.5 L1383.8 616.2 L1397.5 612.5 L1401.2 609.4Z" fill="#87ceeb"/>
<path d="M1374.4 423.1 L1376.2 417.5 L1395 418.8 L1406.2 412.5 L1428.8 408.8 L1434.4 420.6 L1431.2 430 L1415 437.5 L1381.2 448.8 L1376.2 446.2 L1373.8 436.2Z" fill="#87ceeb"/>
<path d="M1358.8 262.5 L1372.5 264.4 L1390 268.8 L1396.2 275 L1387.5 276.2 L1377.5 275.6 L1366.2 273.8 L1361.2 271.2Z" fill="#87ceeb"/>
<path d="M1377.5 275.6 L1387.5 276.2 L1396.2 285 L1392.5 287.5 L1381.2 282.5Z" fill="#87ceeb"/>
<path d="M1396.2 275 L1403.8 271.9 L1410.6 275.6 L1420 282.5 L1415 290 L1411.2 295 L1408.8 293.8 L1403.8 290 L1396.2 285 L1387.5 276.2Z" fill="#87ceeb"/>
<path d="M1381.2 282.5 L1392.5 287.5 L1390 291.9 L1382.5 288.1Z" fill="#87ceeb"/>
<path d="M1261.2 213.9 L1277.5 212.6 L1292.5 217.6 L1306.2 210.1 L1320 210.1 L1323.1 212 L1328.8 220 L1327.5 220 L1330 222.5 L1346.2 223.8 L1357.5 231.2 L1356.9 237.5 L1352.5 241.2 L1343.8 244.4 L1343.1 251.2 L1336.2 251.9 L1335 256.2 L1320 260 L1310 253.8 L1302.5 248.1 L1295 253.1 L1290 252.5 L1286.2 250.6 L1295 243.8 L1293.8 240.6 L1282.5 235 L1277.5 235 L1265 236.9 L1253.1 233.8 L1253.1 228.8 L1256.2 223.8 L1263.8 220 L1262.5 220Z" fill="#87ceeb"/>
<path d="M1277.5 192 L1286.2 187.6 L1301.2 190.1 L1303.8 192 L1303.8 195.8 L1315 203.9 L1307.5 205.8 L1306.2 210.1 L1292.5 217.6 L1277.5 212.6 L1261.2 213.9 L1257.5 211.4 L1262.5 208.2 L1260 202 L1272.5 197.6Z" fill="#87ceeb"/>
<path d="M1636.2 229.2 L1666.2 219.2 L1680 223 L1695 225.5 L1700 221.8 L1698.8 218 L1706.2 212.5 L1725 216.8 L1727.5 221.2 L1747.5 220.5 L1770 229.2 L1795 224.2 L1811.2 225.5 L1805 236 L1820 236 L1828.8 243 L1812.5 248 L1792.5 256.8 L1782.5 255 L1780 263 L1772.5 268 L1740 275 L1727.5 270.5 L1691.2 267.5 L1670 253 L1656.2 251.8 L1658.8 242.5Z" fill="#87ceeb"/>
<path d="M1451.2 275 L1451.9 253.8 L1465 250.6 L1465 257.5 L1471.2 258.8 L1477.5 256.2 L1507.5 263.1 L1512.5 267.5 L1515 275 L1521.2 278.1 L1526.2 278.8 L1535 271.2 L1541.2 270 L1538.8 273.8 L1552.5 278.1 L1543.8 283.1 L1537.5 281.2 L1535 278.8 L1531.2 283.1 L1530 285 L1518.8 287.5 L1525 292.5 L1522.5 300 L1515 299.4 L1513.8 295 L1490 283.8 L1481.2 275.6 L1477.5 275 L1473.8 270 L1466.2 268.1 L1460 270.6 L1457.5 275.6Z" fill="#87ceeb"/>
<path d="M1484.4 311.2 L1491.9 311.9 L1502.5 305 L1505 300.6 L1515 299.4 L1522.5 300 L1523.8 301.9 L1535 297.5 L1540.6 292.5 L1544.4 295 L1545 302.5 L1553.8 298.8 L1565.6 299.4 L1566.2 302.5 L1555 303.1 L1545 305.6 L1542.5 307.5 L1541.9 316.2 L1535 321.2 L1530 330 L1528.1 332.5 L1516.2 336.2 L1513.8 342.5 L1502.5 346.2 L1485 346.2 L1482.5 345 L1485.6 338.1 L1480 332.5 L1478.8 320Z" fill="#87ceeb"/>
<path d="M1545 305.6 L1555 303.1 L1551.2 307.5 L1556.2 313.1 L1555 320 L1557.5 323.8 L1567.5 327.5 L1566.2 330 L1561.2 332.5 L1562.5 336.2 L1548.1 354.4 L1531.9 360 L1541.2 376.2 L1522.5 380.6 L1521.2 382.5 L1513.8 373.1 L1484.4 375 L1484.4 371.9 L1487.5 365.6 L1495 361.2 L1492.5 356.2 L1487.5 351.2 L1482.5 345 L1485 346.2 L1502.5 346.2 L1513.8 342.5 L1516.2 336.2 L1528.1 332.5 L1530 330 L1535 321.2 L1541.9 316.2 L1542.5 307.5Z" fill="#87ceeb"/>
<path d="M1598.8 341.9 L1617.5 347.5 L1630 352.5 L1641.9 355.6 L1641.2 363.8 L1627.5 361.2 L1611.2 355.6 L1595 349.4Z" fill="#87ceeb"/>
<path d="M1642.5 368 L1651.2 365.5 L1653.8 371.8 L1667.5 373 L1663.8 381.8 L1667.5 395.5 L1661.2 385.5 L1657.5 388 L1655 394.2 L1647.5 394.2 L1645 379.2Z" fill="#87ceeb"/>
<path d="M1723.8 386.9 L1736.2 386.9 L1745 382.5 L1751.9 385 L1752.5 390 L1761.2 391.9 L1755 397.5 L1750.6 403.8 L1752.5 410 L1760 428.8 L1768.1 430 L1771.2 442.5 L1768.8 454.4 L1755 461.2 L1752.5 467.5 L1740 472.5 L1741.9 461.9 L1740 459.4 L1742.5 456.2 L1749.4 456.2 L1748.1 452.5 L1756.2 447.5 L1757.5 435 L1755.6 433.8 L1745 429.4 L1744.4 412.5 L1738.8 401.2 L1728.8 396.2Z" fill="#87ceeb"/>
<path d="M1727.5 437.5 L1732.5 435.6 L1743.8 435.6 L1745 429.4 L1755.6 433.8 L1757.5 435 L1756.2 447.5 L1748.1 452.5 L1749.4 456.2 L1742.5 456.2 L1740 459.4 L1733.8 460 L1730 456.2 L1726.9 442.5Z" fill="#87ceeb"/>
<path d="M1833.8 418.8 L1835 411.2 L1838.8 408.8 L1845 411.2 L1846.2 420 L1842.5 433.8 L1848.1 440 L1846.2 442.5 L1836.2 438.8 L1833.1 433.8 L1836.2 427.5Z" fill="#87ceeb"/>
<path d="M1842.5 450 L1848.8 452.5 L1843.1 458.8Z" fill="#87ceeb"/>
<path d="M1856.9 446.2 L1862.5 446.2 L1864.4 455 L1860 452.5Z" fill="#87ceeb"/>
<path d="M1846.2 462.5 L1850 456.2 L1850.6 466.2Z" fill="#87ceeb"/>
<path d="M1814.4 471.9 L1828.8 453.8 L1831.2 458.8 L1817.5 468.8Z" fill="#87ceeb"/>
<path d="M1842.5 480 L1846.2 472.5 L1852.5 470 L1857.5 471.2 L1863.8 463.1 L1868.8 468.8 L1870.6 477.5 L1863.8 488.1 L1856.2 483.8 L1855 476.2 L1848.8 475Z" fill="#87ceeb"/>
<path d="M1850.6 446.9 L1855 448.8 L1860 457.5 L1863.1 462.5 L1860 461.2 L1856.9 456.2Z" fill="#87ceeb"/>
<path d="M1593.1 467.5 L1594.8 461.9 L1600 466.9 L1605 475 L1603.8 481.2 L1598.8 485 L1593.8 482.5 L1591.9 475Z" fill="#87ceeb"/>
<path d="M1955.5 536.2 L1980 543.8 L1983.8 548.8 L1986.2 555 L1995 556.2 L1996.2 561.2 L1990 562.5 L2015 582.5 L2011.2 584.5 L2000 581.2 L1987.5 570 L1980 566.2 L1967.5 576.2 L1955.5 575Z" fill="#87ceeb"/>
<path d="M1998.8 555 L2012.5 551.2 L2020 545 L2026.2 543.8 L2027.5 547.5 L2022.5 550 L2015 556.2 L2005 558.8Z" fill="#87ceeb"/>
<path d="M2012.5 536.2 L2025 542.5 L2026.2 544.5 L2013.8 537.5Z" fill="#87ceeb"/>
<path d="M596.3 427.2 L607.3 426.3 L620.8 426.3 L626.7 429.3 L628.8 432.2 L627.6 442.4 L626.3 454.2 L625 458.4 L612.4 455 L605.6 449.1 L605.6 442.4 L597.2 437.3 L593.8 429.7Z" fill="#87ceeb"/>
<path d="M1316.2 587.5 L1320 583.8 L1319.4 590 L1321.2 595 L1325 605 L1322.5 611.2 L1323.8 616.2 L1315.6 604.4 L1315 600 L1317.5 595Z" fill="#f0f0f0"/>
<path d="M1263.1 470 L1266.9 460 L1272.5 458.8 L1276.2 463.8 L1283.8 463.8 L1283.8 460.6 L1290.6 460.6 L1291.2 464.4 L1295 463.8 L1297.5 460 L1302.5 463.1 L1306.2 463.1 L1311.2 457.5 L1312.5 450 L1317.5 448.8 L1317.5 455 L1321.2 460 L1321.9 470 L1316.2 473.1 L1320 476.2 L1326.2 482.5 L1331.9 491.9 L1322.5 493.8 L1318.8 497.5 L1302.5 498.8 L1295 493.8 L1287.5 495 L1282.5 488.8 L1277.5 486.2 L1276.2 480 L1270 476.2 L1268.8 472.5Z" fill="#f0f0f0" stroke="none"/>
<path d="M1263.1 470 L1266.9 460 L1272.5 458.8 L1276.2 463.8 L1283.8 463.8 L1283.8 460.6 L1290.6 460.6 L1291.2 464.4 L1295 463.8 L1297.5 460 L1302.5 463.1 L1306.2 463.1 L1311.2 457.5 L1312.5 450 L1317.5 448.8 L1317.5 455 L1321.2 460 L1321.9 470" fill="none" stroke="#fff" stroke-width="1.6"/>
<path d="M1043.1 356.2 L1068.5 356.2 L1068.5 366.2 L1048.1 366.6 L1047.5 381.2 L1043.1 383.5 L1043.5 394 L1020 395 L1017.5 395 L1022.5 381.2 L1028.1 372.5 L1036.2 361.2Z" fill="#d3d3d3" stroke="none"/>
<path d="M1551.2 306.2 L1555 303.5 L1566.2 302.5 L1575 307.5 L1582.5 312.5 L1588.8 318.8 L1589.4 327.5 L1580 326.2 L1573.8 323.8 L1567.5 327.5 L1557.5 323.8 L1555 320 L1556.2 313.1Z" fill="#d3d3d3" stroke="none"/>
<path d="M1284.4 460.6 L1290.6 460.6 L1291 464.4 L1284.4 464Z" fill="#d3d3d3" stroke="none"/>
</g>
<g fill="none" stroke="#000" stroke-width="1" stroke-linejoin="round" shape-rendering="crispEdges">
<path d="M284.2 109.5 L284.2 163.8 L295 163.8 L307 171.2 L317.5 165 L340 185.5 L350 189.2 L347.5 196.8"/>
<path d="M425.8 327.5 L441 327.5 L460 335.1 L476 333.6 L485.1 332.4 L489.7 332.3 L498 339.6 L501.1 345.7 L507.9 349.5 L513.2 343.4 L521.6 345.3 L533 364.3 L542.9 367"/>
<path d="M695 403.5 L695.8 411.8"/>
<path d="M763.8 354.2 L727.5 411.5"/>
<path d="M780 366.5 L748.8 413.5"/>
<path d="M792.5 382.2 L752.5 418.5"/>
<path d="M799.2 401 L755 428.5"/>
<path d="M800.5 419.5 L758.8 437.2"/>
<path d="M795.5 436.5 L766.2 443.5"/>
<path d="M785.8 451.5 L757.5 443"/>
<path d="M773.2 462.2 L753.8 449.8"/>
<path d="M575 433 L577.5 426 L585 425.5 L580 416 L591.2 415.5 L591.2 422.2 L596.2 421"/>
<path d="M591.2 415.5 L591.2 409.8 L600 409.8"/>
<path d="M778.8 484 L775 496.5 L782.5 509"/>
<path d="M796.2 485.2 L799.5 497.8 L798.8 506.5"/>
<path d="M813.8 494 L807.5 506.5"/>
<path d="M750 496.5 L765 495.2 L765.5 506.5 L771.2 512.8 L782.5 509 L798.8 506.5 L807.5 506.5"/>
<path d="M782.5 698.8 L805 711.2 L807.5 715"/>
<path d="M713 832.5 L713.8 846.2"/>
<path d="M392.5 230 L560 230"/>
<path d="M520 230 L556.2 230 L557.5 228"/>
<path d="M1043.1 356.2 L1068.5 356.2 L1068.5 366.2 L1048.1 366.6 L1047.5 381.2 L1043.1 383.5 L1043.5 394 L1020 395"/>
<path d="M1091.9 340 L1068.5 350.6 L1068.5 360 L1091.9 372.2 L1140 408.1"/>
<path d="M1091.9 372.2 L1081.2 372.8 L1085.6 405 L1087.5 428.1 L1068.1 429.4 L1053.8 428.1 L1048.8 432.5"/>
<path d="M1046.9 433.1 L1051.2 447.2"/>
<path d="M1145.6 407.5 L1143.8 428.1 L1121.9 432.5"/>
<path d="M1121.9 432.5 L1116.2 431.9 L1103.8 436.9 L1095 443.8 L1090 451.2 L1087.5 458.1 L1072.5 460.6"/>
<path d="M1121.9 432.5 L1123.8 440 L1127.5 445 L1132.5 446.2 L1134.4 448.8 L1141.2 450.6"/>
<path d="M1199.4 436.9 L1200 440 L1195 443.1 L1183.8 441.9 L1176.2 445 L1162.5 441.2 L1151.2 438.8 L1145.6 440 L1141.9 445 L1141.2 450.6 L1141.2 460 L1136.9 467.5 L1136.9 483.1"/>
<path d="M1134.4 448.8 L1125 455 L1103.8 455.6 L1103.8 464.4 L1092.5 463.1 L1087.5 458.1"/>
<path d="M1103.8 464.4 L1104.4 476.2 L1100.6 482.5 L1101.9 491.2"/>
<path d="M1120 455.6 L1121.2 463.1 L1123.8 475 L1123.1 480 L1126.2 483.8"/>
<path d="M1125 455 L1125 460 L1130 468.8 L1130 483.8"/>
<path d="M1058.8 470 L1063.8 470 L1065 476.2 L1068.1 476.9 L1070 477.5"/>
<path d="M1030 455.6 L1037.5 445.6"/>
<path d="M1177.5 508.1 L1187.5 508.1 L1186.9 513.8 L1176.2 515.6"/>
<path d="M1187.5 508.1 L1198.8 508.1 L1198.8 513.1 L1205 512.5 L1202.5 522.5 L1205.6 523.8 L1205 532.5 L1200 535.6 L1195 531.9 L1193.1 534.4 L1188.8 535 L1190 542.5 L1186.2 543.8"/>
<path d="M1211.2 475.6 L1206.9 485 L1212.5 500 L1216.2 503.1"/>
<path d="M1230 500 L1231.2 493.8 L1236.2 490.6 L1245 495 L1268.8 491.2 L1280 490"/>
<path d="M1280 490 L1287.5 495"/>
<path d="M1254.4 456.2 L1260 465 L1259.4 468.8 L1263.1 470"/>
<path d="M1348.1 413.8 L1340 419.4 L1338.8 425 L1335.6 432.5 L1336.9 436.9"/>
<path d="M1336.9 436.9 L1341.9 436.9 L1344.4 433.1 L1349.4 435.6 L1357.5 436.2 L1375.6 446.9"/>
<path d="M1336.9 436.9 L1333.8 445 L1330 446.2 L1327.5 455 L1324.4 457.5 L1322.5 466.2 L1321.9 470"/>
<path d="M1331.9 491.9 L1336.2 495 L1350 500 L1355 499.4 L1362.5 495.6 L1367.5 496.2"/>
<path d="M1322.5 493.8 L1327.5 509.4 L1325 515 L1321.9 518.8"/>
<path d="M1302.5 498.8 L1305 507.5 L1296.2 517.5 L1295 526.2 L1291.9 535 L1293.1 540"/>
<path d="M1295 526.2 L1308.5 526.2"/>
<path d="M1305 526.2 L1302.5 538.8 L1295 545 L1294 541.2"/>
<path d="M1292.5 536.2 L1302.5 535.6"/>
<path d="M1322.5 527.5 L1343.8 538.8 L1352.5 547.5"/>
<path d="M1262.5 586.2 L1287.5 592.5 L1296.2 593.8 L1296.2 600 L1288.8 593.8 L1286.9 583.8 L1288.8 573.8 L1294.4 570.6 L1300 570 L1303.8 571.2"/>
<path d="M1300 570 L1305 572.5 L1316.2 576.2"/>
<path d="M1193.1 556.2 L1217.5 555.6 L1223.8 568.1 L1233.8 568.1 L1235.6 561.9 L1241.2 561.2 L1241.2 564.4 L1249.4 565 L1251.2 582.5"/>
<path d="M1249.4 564.4 L1250 575 L1253.1 586.9 L1262.5 586.2 L1262.5 596.9 L1250.6 597.5 L1250.6 617.5 L1258.1 625"/>
<path d="M1190 623.1 L1230 623.1 L1247.5 626.2 L1258.1 625 L1268.1 625"/>
<path d="M1268.1 625 L1270.6 625 L1280 626.9 L1292.5 615 L1300 613.1 L1299.4 608.8 L1315.6 604.4"/>
<path d="M1300 613.1 L1315.6 618.8 L1315 632.5 L1313.1 646.2 L1305 653.1"/>
<path d="M1326.9 589.4 L1340 590.6 L1358.8 583.8"/>
<path d="M1238.8 667.5 L1242.5 675 L1241.2 679.4 L1247.5 679.4 L1258.1 670 L1271.2 673.1 L1273.1 667.5 L1279.4 663.8 L1280 660.6 L1291.9 652.5"/>
<path d="M1074.4 193.9 L1076.9 200.1 L1086.2 200.1"/>
<path d="M1128.8 268.1 L1140 278.8"/>
<path d="M1163.8 263.1 L1161.9 268.8"/>
<path d="M1106.2 312.5 L1112.5 330 L1102.5 330.6 L1097.5 336.9 L1068.5 350.6 L1068.5 356.2"/>
<path d="M1171.2 301.2 L1169.4 315 L1165.6 317.5 L1166.2 323.8 L1173.1 330.6 L1176.2 340 L1178.8 362.5 L1175.6 365.6 L1176.2 368"/>
<path d="M1176.2 340 L1178.8 363.8 L1175 365.6 L1178.1 372.5 L1191.2 381.9"/>
<path d="M1188.8 325 L1187.5 328.8 L1180 335 L1176.2 340"/>
<path d="M1268.1 333.1 L1268.1 368"/>
<path d="M1268.1 340 L1268.1 401.9 L1261.9 401.9 L1261.9 404.4"/>
<path d="M1210 384.4 L1261.9 404.4"/>
<path d="M1191.2 381.9 L1205 385.6 L1210 384.4"/>
<path d="M1428.8 408.8 L1446.2 402.5 L1451.2 389.4 L1446.9 385.6"/>
<path d="M1425 376.9 L1427.5 381.2 L1446.9 385.6 L1451.2 389.4"/>
<path d="M1446.9 385.6 L1451.9 371.9 L1452.5 366.9"/>
<path d="M1333.1 307.5 L1335 304.4 L1365 301.2 L1371.2 299.4 L1385.6 300"/>
<path d="M1381.2 287.5 L1385.6 300 L1390 307.5 L1395 310 L1389.4 319.4 L1400 328.8 L1403.8 333.1 L1402.5 337.5 L1406.2 345"/>
<path d="M1365 301.2 L1366.2 306.2 L1364.4 315.6 L1350 323.1 L1351.9 330"/>
<path d="M1350 323.1 L1338.8 328.8 L1331.9 327.5"/>
<path d="M1351.9 330 L1340 334.4 L1345.6 340.6 L1330 347.5 L1326.2 347.5 L1325 352.5"/>
<path d="M1351.9 330 L1360 331.2 L1385 347.5 L1396.2 348.8 L1402.5 341.9 L1406.2 345"/>
<path d="M1396.2 348.8 L1407.5 351.2"/>
<path d="M1325 340 L1326.2 352.5"/>
<path d="M1331.9 327.5 L1328.8 337.5 L1326.2 352.5"/>
<path d="M1328.8 322.5 L1333.1 321.2 L1333.1 316.2"/>
<path d="M1440 299.4 L1455 294.4 L1468.8 296.9 L1482.5 305 L1484.4 311.2"/>
<path d="M1431.2 271.2 L1440 269.4 L1450 275.6 L1451.2 275"/>
<path d="M1413.8 220 L1401.2 224.4 L1395.6 233.8 L1405 236.2 L1412.5 246.2"/>
<path d="M1366.2 273.8 L1377.5 275.6 L1381.2 282.5 L1381.2 287.5"/>
<path d="M1277.5 235 L1287.5 245 L1286.2 250.6"/>
<path d="M1067.5 271.2 L1080.6 273.8 L1080 281.2 L1076.2 288.1 L1078.8 301.2"/>
<path d="M1108.8 263.8 L1113.8 264.4 L1115.6 268.1 L1138.1 268.1"/>
<path d="M1163.8 262.5 L1161.2 255.6 L1164.4 249.4 L1156.9 246.9 L1156.2 245.6 L1161.2 240 L1167.5 238.1 L1167.5 230.6 L1160 228.8 L1153.8 226.2 L1141.2 223.1 L1134.4 220"/>
<path d="M1167.5 238.1 L1177.5 239.4 L1181.2 243.1 L1181.2 246.2 L1172.5 248.1 L1170 246.2 L1164.4 249.4"/>
<path d="M1177.5 240 L1196.2 238.8 L1195 235 L1201.2 231.9 L1212.5 230.6 L1221.2 232.5 L1220 236.2 L1217.5 243.1 L1200 246.2 L1181.2 243.1"/>
<path d="M1192.5 223.8 L1201.2 231.9"/>
<path d="M1212.5 230.6 L1231.2 227.5 L1211.2 220"/>
<path d="M1221.2 232.5 L1231.2 236.2 L1252.5 233.1 L1253.8 228.8 L1231.2 227.5"/>
<path d="M1217.5 243.1 L1225 246.9 L1232.5 249.4 L1245 246.9 L1252.5 236.9 L1252.5 233.1"/>
<path d="M1252.5 236.9 L1266.2 238.1 L1280 232.5"/>
<path d="M1245 246.9 L1248.8 256.2 L1255 256.9 L1256.2 261.2 L1280 260 L1288.1 262.6"/>
<path d="M1256.2 261.2 L1253.8 270 L1256.2 275 L1280 276.2"/>
<path d="M1232.5 249.4 L1235.6 263.8 L1231.2 268.8"/>
<path d="M1235.6 263.8 L1242.5 263.8 L1253.8 270"/>
<path d="M1235 282.5 L1243.8 277.5 L1256.2 275"/>
<path d="M1200 246.2 L1202.5 252.5 L1212.5 253.1 L1217.5 243.1"/>
<path d="M1214.4 254.4 L1231.2 253.1 L1235.6 263.8 L1220 267.5"/>
<path d="M1242.5 263.8 L1243.8 277.5"/>
<path d="M1205 201.4 L1207.5 209.5 L1208.1 220"/>
<path d="M1208.1 220 L1211.2 220"/>
<path d="M1162.5 204.5 L1161.2 211.4 L1156.9 213.9 L1156.2 220"/>
<path d="M1143.8 213.9 L1151.2 215.8 L1155 220"/>
<path d="M1170.6 197.6 L1180 197.6"/>
<path d="M1233.8 199.5 L1256.2 198.2 L1260 202"/>
<path d="M1262.5 220 L1255 226.2 L1252.5 233.1"/>
<path d="M1243.8 188.9 L1257.5 187 L1272.5 189.5 L1277.5 192"/>
<path d="M1248.1 179.5 L1257.5 178.9"/>
<path d="M1270 176.4 L1282.5 179.5"/>
<path d="M1285.6 167 L1286.9 172 L1283.1 179.5 L1285.6 184.5 L1286.2 187.6"/>
<path d="M1186.9 170.8 L1194.4 163.2 L1195.6 158.2 L1191.2 149.5 L1195 141.4 L1203.1 140.1 L1208.8 128.9 L1217.5 123.2 L1216.2 120.8 L1227.5 114.5 L1237.5 115.1 L1239.4 112"/>
<path d="M1239.4 112 L1246.2 110.8 L1260 118.2 L1259.4 122 L1262.5 127 L1261.9 130.8"/>
<path d="M1239.4 112 L1248.8 114.5 L1268.8 113.9 L1275 107.6 L1283.8 105.1 L1293.8 108.9 L1305 103.2"/>
<path d="M1305 103.9 L1290 112 L1290.6 116.4 L1297.5 120.1 L1292.5 124.5 L1298.1 130.8 L1294.4 135.8 L1301.2 140.1 L1298.1 144.5 L1306.2 148.2 L1296.2 155.8 L1282.5 162"/>
<path d="M1520 192.6 L1482.5 200.8 L1485.6 207 L1476.2 213.2"/>
<path d="M1476.25 213.25 L1465 219 L1452.5 221.3 L1446.25 220"/>
<path d="M1413.8 220 L1421.2 213.9 L1440 217 L1446.2 220"/>
<path d="M1811.2 225.5 L1826.2 223 L1833.8 206 L1848.8 203 L1866.2 206.8 L1877.5 225.5 L1893.8 230.5 L1895 238 L1918.8 234.2 L1910 253 L1900 250.5 L1896.2 255.5 L1898.8 266 L1916.2 267.5"/>
<path d="M1916.2 267.5 L1893.8 269.2 L1872.5 273 L1857.5 284.2"/>
<path d="M1870 299.2 L1886.2 295.5"/>
<path d="M1518.8 287.5 L1530 285 L1555 288.1 L1556.9 291.9 L1563.8 295 L1565.6 299.4"/>
<path d="M1522.5 300 L1523.8 301.9 L1535 297.5 L1540.6 292.5 L1544.4 295 L1545 302.5"/>
<path d="M1566.2 302.5 L1582.5 309.4 L1586.2 306.9 L1591.2 306.9 L1596.9 310.6 L1595 315 L1591.2 317.5 L1588.8 318.8 L1590.6 328.1 L1586.2 328.8 L1588.8 336.2 L1598.8 341.2"/>
<path d="M1647.5 356.2 L1652.5 353.8 L1663.8 355.6 L1665 360.6 L1650 362.5 L1647.5 356.2"/>
<path d="M1641.9 355.6 L1647.5 356.2"/>
<path d="M1635.6 230.6 L1625 237.5 L1613.8 240.6 L1596.9 256.2 L1595 271.2 L1575 277.5 L1572.5 281.2 L1562.5 282.5 L1556.2 287.5 L1556.9 291.9"/>
<path d="M1595 271.2 L1590 267.5 L1557.5 264.4 L1555 268.8 L1541.2 267.5 L1535 271.2"/>
<path d="M1635.6 230.6 L1623.8 225 L1616.2 220"/>
<path d="M1665 355.5 L1677.5 348 L1690 346.8 L1692.5 351.8 L1696.2 354.2 L1700 352.5 L1705 358 L1705 368 L1697.5 375.5 L1706.2 381.8 L1710 390.5 L1720 393"/>
<path d="M1665 360.5 L1680 358 L1695 354.2"/>
<path d="M1705 368 L1685 364.2 L1680 378 L1673.8 379.2 L1672.5 389.2 L1667.5 390.5"/>
<path d="M1698.8 406.2 L1698.1 412.5 L1701.2 421.2 L1705.6 423.8 L1701.2 431.9 L1706.9 440 L1709.4 450 L1706.9 458.8"/>
<path d="M1698.8 406.2 L1712.5 398.8 L1721.2 393.8 L1723.8 386.9"/>
<path d="M1713.8 398.8 L1717.5 408.8 L1720 405 L1721.2 416.2 L1730 425 L1744.4 430"/>
<path d="M1727.5 441.2 L1718.8 445 L1717.5 440.6 L1712.5 441.9 L1713.1 447.5 L1710 453.8"/>
<path d="M1713.1 481.9 L1720 486.9 L1721.2 483.8 L1725 485"/>
<path d="M1680 373.8 L1685 362.5 L1691.2 360"/>
<path d="M1721.2 393.8 L1710 390 L1708.1 383.1 L1697.5 375.6 L1705 367.5 L1704.4 360"/>
<path d="M1522.5 380.6 L1541.2 376.2 L1531.9 360 L1546.2 354.4 L1563.1 332.5 L1565 330"/>
<path d="M1480 200 L1527.5 192.5 L1540 193 L1560 202.5 L1572.5 199.5 L1595 218 L1615 218 L1630 228 L1637.5 229.5"/>
<path d="M1637 230 L1626.2 237.5 L1613.8 240.8 L1596.8 256.2 L1595 270.5 L1575 277.5 L1572.5 281.2 L1562.5 282.5 L1556.2 287.5"/>
<path d="M1703.7 420 L1706 423.4 L1701.4 431.4 L1707.5 438.3 L1709 448.9 L1707.1 457.3 L1704.8 459.5"/>
<path d="M1713.2 481.2 L1718.9 483.1 L1720 487.3 L1721.9 484.6 L1724.2 486.2 L1725 483.1 L1722.7 480.8"/>
<path d="M1866.2 573.8 L1876.2 580"/>
<path d="M1780 503.8 L1787.5 507.5 L1797.5 500 L1805 497.5 L1812.5 490 L1817 493.8"/>
<path d="M560 229.7 L562.7 232 L569.8 232 L577.4 236.4 L588.6 236.2"/>
<path d="M671.6 257.4 L675.2 254.3 L697.5 253.4 L703.8 250.3 L709.1 239.6 L717.1 241.3 L722.5 253.8"/>
<path d="M1321.9 470 L1316.2 473.1 L1320 476.2 L1326.2 482.5 L1331.9 491.9 L1322.5 493.8 L1318.8 497.5 L1302.5 498.8 L1295 493.8 L1287.5 495 L1282.5 488.8 L1277.5 486.2 L1276.2 480 L1270 476.2 L1268.8 472.5 L1263.1 470"/>
<path d="M53.2 112.5 L82.5 121.2 L87 128.2 L90 123.8 L103.8 124.2 L114.5 129.2 L100 133 L98.2 139.5 L91.2 139.5 L80 137 L75 133.2 L62.5 132.5 L57.5 127.5 L53.2 135.5Z M53.2 97.5 L60 96.2 L68.2 99.5 L53.8 101.2Z M311.2 176.2 L317.5 175 L322.5 187Z M327.5 187.5 L331.2 186.2 L337.5 196.2Z M330.5 202 L333.8 199.2 L340 200 L338.8 207.5 L343.2 212.5Z M357.5 219.2 L370 220.8 L386.2 228.8 L392.5 235 L382.5 233.8Z M112.5 193.2 L122.5 196.2 L115 198.8Z M93.8 203.2 L107.5 201.2 L108.2 203.2 L97.5 204.5Z M384.2 80 L425 80.5 L436.2 85.8 L391.2 99.2 L375 93.8Z M417.5 93.8 L436.2 85.8 L450 86.2 L470 94.5 L488.8 83.2 L500 95 L527.5 110 L462.5 115.5 L425 107 L456.2 102.5 L420 99.5Z M391.2 68.8 L425 61.2 L436.2 62.5 L417.5 73.8Z M422.5 74.2 L436.2 67.5 L467.5 71.2 L466.2 67 L475 65.5 L495 70 L495 73.8 L485 76.2 L447.5 80.5 L442.5 78 L457.5 75.5Z M437.5 60 L452.5 55 L467.5 53.8 L472.5 56.2 L467.5 61.2 L452.5 62.5Z M501.2 66.2 L541.2 66.2 L544.5 76.2 L520 74.5 L502.5 70.8Z M510 88.8 L521.2 83.8 L544.5 82 L547.5 94.5 L535 99.5Z M618.2 391 L620 384.8 L632.5 382.2 L681.2 397.2 L680 401 L663.8 403 L657.5 397.2 L635 388 L626.2 389.8 L623.8 393.5Z M624.5 394.8 L626.2 393.5 L628 398Z M655 372.2 L657.5 371 L661.8 379.8 L659.5 380.5Z M654.2 412.2 L658.8 410.5 L670 412.2 L667.5 415.5 L660 414.8Z M679.5 409.8 L685 404.8 L692.5 403 L705 407.2 L713.8 411.8 L680 411Z M690 392.2 L695 390.5 L698.8 393.5Z M721.2 409.8 L730 413.5 L722.5 414.2Z M755 457.2 L761.2 456 L760 461 L755 460.5Z M751.2 414.5 L754 415.5 L753.2 417.8 L751.2 417Z M753.8 420.8 L756.5 421.8 L755.8 424 L753.8 423.2Z M755.8 427 L758.5 428 L757.8 430.2 L755.8 429.5Z M757.5 434.5 L760.2 435.5 L759.5 437.8 L757.5 437Z M755 442 L757.8 443 L757 445.2 L755 444.5Z M765 441.5 L767.8 442.5 L767 444.8 L765 444Z M752.5 448.2 L755.2 449.2 L754.5 451.5 L752.5 450.8Z M735 410.8 L737.8 411.8 L737 414 L735 413.2Z M746.2 412 L749 413 L748.2 415.2 L746.2 414.5Z M760.8 829.5 L764.5 826.2 L766.2 830Z M767 828 L771.2 824.2 L778.8 826.2 L771.2 832Z M679.5 777 L683.8 770 L685.2 776.2 L681 778Z M678.8 790 L683 781.2 L684.5 787.5 L680.2 791Z M673.8 812.5 L677.5 804.5 L679 810.8 L675.2 813.5Z M673.8 825 L677.5 820 L679 826.2 L675.2 826Z M677.5 833.8 L690 840 L691.5 846.2 L679 834.8Z M693.8 843.8 L702.5 846.2 L704 848.2 L695.2 844.8Z M705 847 L713 849.5 L714.5 851.5 L706.5 848Z M818.8 527.8 L821.2 522 L832.5 523.5 L827.5 530.2Z M798.8 32.5 L803.8 37.5 L805 32 L895 27.5 L1006.2 25 L1011.2 29.2 L960 37.5 L1007.5 36.2 L987.5 39.5 L991.2 42.5 L1035 34.2 L1055 39.5 L1045 43 L1027.5 42.5 L1026.2 46.2 L993.8 52.5 L995 54.5 L1013.8 53.8 L1015.5 65.5 L993.8 62.5 L987.5 71.2 L1012.5 70.8 L1002.5 87 L975 88 L977.5 92.5 L985 90.5 L997.5 96.2 L991.2 105.5 L963.8 96.2 L948.8 103.8 L983.8 107.5 L942.5 118.2 L927.5 116.2 L900 131.2 L893.8 130 L880 142.5 L865 166.2 L836.2 161.2 L835 162.5 L812.5 140 L810 135 L803.8 130 L800.5 122.5 L805 115 L815 113.8 L816.8 108.8 L800 109.5 L793.8 104.5 L808.8 100.8 L805 97.5 L792.5 98 L785 78.8 L772.5 73 L757.5 70.8 L700 67.5 L696.2 62.5 L726.2 63.8 L726.8 60.8 L692.5 58.8 L688.8 55.5 L735 50 L733.8 45.8 L722.5 45Z M978.8 128 L990 126.2 L997.5 130 L1026.2 126.2 L1037.5 133.8 L1038.8 137.5 L1007.5 146.2 L985 141.2 L990 133.8Z M575 36.2 L620 31.2 L670 28 L757.5 32 L700 47.5 L670 50 L676.2 53 L670 58.8 L655 62 L637.5 62.5 L660 65.8 L650 68.8 L595 72.5 L587.5 67 L602.5 64.5 L596.2 61.2 L626.2 52.5 L607.5 45 L642.5 48.2 L625 43.8Z M545 45 L562.5 41.2 L610 48.8 L587.5 58.8 L560 53.8Z M547.5 64.2 L595 72.5 L648.8 73.8 L642.5 78.8 L615 79.5 L577.5 78Z M536.2 53.2 L557.5 55.5 L556.2 59.5 L541.2 58.8Z M520 67.5 L541.2 66.2 L544.2 76.2 L520 75 L510 71.2Z M552.5 81.2 L585 82 L575 87.5 L565 88.8 L562.5 94.5 L553.8 94.5Z M586.2 92.5 L593.8 86.2 L616.2 83.8 L606.2 88.8 L615 98.2 L618 93.8 L612.5 87.5 L637.5 83.8 L641.8 92 L670 90 L695 96.2 L716.2 103 L716.8 113.8 L748 127 L745 135 L722.5 123.8 L716.8 130.8 L737.5 142 L734.5 149.2 L712.5 141.2 L711.2 145 L728.8 152.5 L728 154.5 L692.5 142.5 L672.5 137.5 L658.8 139.2 L656.2 136.2 L660 132.5 L672.5 133 L692.5 122.5 L675 113.8 L637.5 110 L613.8 108.2 L588.8 100Z M766.2 238.8 L775 233.8 L782.5 216.2 L791.2 215 L785 222.5 L791.2 228 L802.5 228 L803.8 236.2 L807.5 238.8 L806.2 243.8 L797.5 240 L792.5 242 L788.8 238.8Z M284.2 109.5 L250 105 L225 102 L192.5 99.2 L175 101.2 L155 105 L133.8 112.5 L133.8 115.5 L164.2 126.2 L160 130.5 L143.8 125 L123.2 132 L141.8 138.2 L165.5 136.2 L167.5 143.8 L146.2 146.8 L134.5 155 L147.5 166.2 L159.2 164.2 L161.2 173.2 L180.5 171.2 L185.5 179.5 L142.5 198 L166.2 195 L212 173.2 L206.5 170.8 L220 161.2 L232.5 157.5 L221.2 163.8 L220.8 170.8 L250 161.2 L282.5 167 L307.5 172.5 L347.5 197.5 L357.5 207.5 L392.5 230 L381.2 234.2 L386.2 247.5 L382.5 266.2 L384.5 280 L393.8 296 L393.8 296 L397.5 302.2 L402.3 310 L405.3 315.3 L419 320.3 L425.8 327.5 L433.4 343.4 L444.5 353.5 L438.4 356.4 L446.4 361.7 L454.7 364.7 L455.5 374.6 L461.6 379.9 L467.6 385.6 L472.6 382.6 L466.1 373.8 L449.4 349.5 L440.3 342.7 L440.3 332.4 L449.8 339.6 L456.2 351 L474.5 369.3 L493.5 387.1 L494.6 400 L495.5 404.2 L547.5 428 L562.5 424.8 L575 433 L587.5 446 L605 453.5 L611.2 461 L615 464 L627.5 468.5 L630 472.2 L636.2 471 L640 474.8 L650 478 L660 478.5 L661.2 496 L655 508.5 L646.2 517.2 L641.2 528.5 L640 536 L645 543.5 L637.5 546 L640 554.8 L650 571 L663.8 592 L663.8 592 L670 605.2 L677.5 612.8 L703.8 629 L703 651.5 L702.5 670 L696.2 695 L695.5 718.8 L684.5 742.5 L685.8 756.2 L681.8 765 L690 768.8 L685 792.5 L671.8 797 L681.2 798.8 L677.5 810 L672.5 817.5 L673.8 826.2 L678.8 832.5 L692.5 840 L700 841.2 L702.5 846.2 L713.8 849.5 L713 846.2 L733.8 845 L715 835 L713 832 L701.2 832.5 L700 836.2 L696.2 835 L700 832.5 L715 831.2 L709.2 822.5 L720 810 L731.2 803.8 L728.8 797.5 L720 797 L722.5 790 L730 786.2 L742.5 773.8 L742.5 771.2 L736.2 772.5 L733.8 763.8 L750.5 763 L751.2 752 L780 745.8 L785.5 738 L780 735 L781.2 728.8 L775 724.5 L772.5 718.8 L775.5 724.5 L793.8 727.5 L803.8 720 L802 717 L807.5 715 L820 706.2 L822.5 697.5 L831.2 688.8 L832.5 670 L856.2 657.8 L871.2 656.5 L888 626.5 L890 599 L906.2 581 L914.5 567.8 L910 551.5 L883.8 539 L860 535.2 L855 529 L835 524.5 L826.2 535.2 L828.8 530.2 L820 531.5 L818.8 526 L808.8 530.2 L824.5 511 L820 501.5 L810 490.2 L796.2 485.2 L778.8 484 L765 472.8 L755 461 L745 458 L735 461 L720 457.2 L712.5 453 L702.5 453.5 L697 456 L697 466 L695 466 L693.8 456 L698.8 449.8 L695 446.5 L680 452.2 L665 463.5 L661.2 468.5 L655 464 L640 464 L632.5 466 L625 457.2 L616.2 456 L623.8 456 L625 446 L626.2 432.2 L613.8 426.5 L600 427.2 L593.8 426 L596.2 421 L600 409.8 L605 393.5 L585 396 L580 408.5 L560.5 413 L548.8 406 L540.5 389.8 L542.8 367 L545.5 354 L562.5 345.5 L592.5 348.5 L586.2 342.2 L607.5 340.5 L616.2 344.8 L621.2 342.2 L641.2 372.2 L645 369.8 L645.5 361 L637.5 339.8 L642.5 328.5 L673.8 310.5 L666.2 296 L675 296 L682.5 277.5 L705 273.8 L698.8 271.2 L705 262.5 L722.5 255 L740 250.8 L728.8 256.2 L730 262.5 L758.8 251.2 L765.8 247.5 L762.5 242.5 L755 251.2 L732.5 241.2 L737.5 237 L725 235.8 L736.2 235 L740 231.2 L727.5 229.2 L710 236.2 L700 242.5 L708.8 235 L727.5 223.8 L766.2 222.5 L782.5 215 L790 212.5 L788.8 203.8 L780 198.8 L763.8 205.5 L760 203 L780 197.5 L766.2 195 L756.2 187.5 L755 181.2 L736.2 162.5 L721.2 175 L706.2 167 L707 158.8 L683.8 150 L657.5 151.2 L662.5 166.2 L653.2 172.5 L663.8 178 L667.5 186.2 L648.2 196.2 L655.8 211.2 L645 217.5 L633 206.2 L632.5 195 L615 193 L582.5 181.2 L571.2 183.2 L568.8 173.8 L559.5 172.5 L558.8 162.5 L566.2 154.5 L583.8 147 L563.8 141.2 L583.8 145 L602.5 133.8 L580 129.2 L606.2 135 L603.8 142.5 L613.8 146.2 L625 141.2 L645 143.8 L610 130 L606.2 126.2 L637.5 123.8 L637.5 111.2 L613.8 108.2 L616.2 113.8 L601.2 122.5 L580 110 L576.2 103.8 L565 96.2 L555 95 L547 105 L565.5 114.5 L553.8 121.8 L526.2 117 L523.8 120 L490 117 L473.8 118.8 L468 125 L457.5 120 L433.8 120 L433.8 115.8 L395 108.2 L386.2 111.2 L372.5 106.2 L370 108 L352.5 107.5 L312.5 113 L284.2 109.5Z M1412.5 591.2 L1420 611.2 L1418.1 615 L1415 613.8 L1413.8 622.5 L1408.8 638.8 L1402.5 658.8 L1400 667.5 L1390 672.5 L1381.2 670 L1379.4 660 L1375.6 653.1 L1382.5 641.2 L1380.6 622.5 L1383.8 616.2 L1397.5 612.5 L1401.2 609.4Z M1375.2 590.6 L1384.4 591 L1380 595.6 L1376.2 593.8Z M1091.9 172.4 L1098.8 172 L1099.4 175.8 L1108.8 179.2 L1106.9 188.2 L1128.8 208.2 L1123.1 217 L1125 220.6 L1106.2 220.6 L1086.2 224.4 L1100 215.8 L1093.8 213.9 L1093.1 207 L1101.2 206.4 L1097.5 196.4 L1091.9 196.4 L1085.6 185.5Z M1058.8 199.5 L1072.5 193.2 L1080 193.2 L1086.2 197.6 L1086.9 200.1 L1083.1 201.4 L1081.2 209.5 L1071.2 213.2 L1058.8 215.5 L1063.8 208.2 L1063.1 203.2 L1060 201.4Z M1186.9 189.5 L1193.1 188.2 L1194.4 195.1 L1190 197 L1186.2 194.5Z M1193.8 295 L1211.2 295 L1211.2 300 L1208.1 304.4 L1193.8 297.5Z M1203.1 306.2 L1207.5 307.5 L1205 310.6Z M1170.6 268.1 L1175.6 266.2 L1176.2 271.9 L1173.1 274.4Z M1168.8 278.1 L1175 276.2 L1177.5 282.5 L1176.2 289.4 L1169.4 290.6Z M1259.4 310.6 L1275 312.5 L1268.8 314.4 L1260.6 313.1Z M1310.6 312.5 L1322.5 311.2 L1317.5 315 L1312.5 315.6Z M1422.5 93.2 L1438.8 85.8 L1454.4 87.6 L1448.1 94.5 L1463.1 103.2 L1437.5 102Z M1438.8 83.2 L1463.8 72 L1497.5 67 L1497.5 72 L1462.5 85.1Z M1763.8 411.2 L1768.1 402.5 L1777.5 402.5 L1776.2 410 L1770 413.8Z M1831.2 388.1 L1833.1 378.8 L1839.4 372.5 L1842.5 374.4 L1840 382.5Z M1833.8 418.8 L1835 411.2 L1838.8 408.8 L1845 411.2 L1846.2 420 L1842.5 433.8 L1848.1 440 L1846.2 442.5 L1836.2 438.8 L1833.1 433.8 L1836.2 427.5Z M1842.5 450 L1848.8 452.5 L1843.1 458.8Z M1856.9 446.2 L1862.5 446.2 L1864.4 455 L1860 452.5Z M1846.2 462.5 L1850 456.2 L1850.6 466.2Z M1814.4 471.9 L1828.8 453.8 L1831.2 458.8 L1817.5 468.8Z M1842.5 480 L1846.2 472.5 L1852.5 470 L1857.5 471.2 L1863.8 463.1 L1868.8 468.8 L1870.6 477.5 L1863.8 488.1 L1856.2 483.8 L1855 476.2 L1848.8 475Z M1850.6 446.9 L1855 448.8 L1860 457.5 L1863.1 462.5 L1860 461.2 L1856.9 456.2Z M1961.2 200.5 L1966.2 198 L1977.5 233 L1968.8 231.8 L1965 240.5 L1970 246.8 L1962.5 248 L1958.8 233Z M1958.8 251.8 L1962.5 250.5 L1972.5 258 L1983.8 257.2 L1982.5 266.8 L1975 265.5 L1968.8 271.8 L1955 270.5 L1950 273 L1948.8 269.2 L1951.2 264.2 L1958.8 260.5Z M1955 274.2 L1962.5 285.5 L1956.2 294.2 L1953.8 311.8 L1933.8 315.5 L1927.5 323 L1923.8 321.8 L1921.2 316.8 L1902.5 321.8 L1896.2 320.5 L1895 316.8 L1902.5 310.5 L1923.8 308 L1930 303 L1931.2 297.5 L1933.8 301.8 L1950 290.5 L1950 278Z M1886.2 323 L1895 319.2 L1902.5 323 L1897.5 336.8 L1888.8 334.2 L1890 328Z M1905 320.5 L1916.2 317.5 L1917.5 321.8 L1907.5 326Z M1593.1 467.5 L1594.8 461.9 L1600 466.9 L1605 475 L1603.8 481.2 L1598.8 485 L1593.8 482.5 L1591.9 475Z M1129.4 218.9 L1143.8 213.9 L1151.2 204.8 L1162.5 204.5 L1173.1 200.8 L1170.6 197.6 L1167.5 190.1 L1168.8 183.2 L1182.5 178.5 L1183.8 182 L1181.2 183.2 L1185 188.2 L1185 195.8 L1180 197.6 L1188.8 200.1 L1196.2 197 L1205 201.4 L1230 195.8 L1233.8 199.5 L1236.9 193.9 L1243.1 193.2 L1243.8 188.9 L1248.1 179.5 L1249.4 175.8 L1257.5 178.9 L1260.6 182.6 L1264.4 180.8 L1262.5 178.2 L1270 176.4 L1249.4 173.2 L1256.2 170.8 L1285 165.8 L1299.4 165.1 L1282.5 162 L1256.2 167.6 L1250 165.8 L1246.2 162 L1247.5 155.8 L1245 148.9 L1270.6 136.4 L1270 133.2 L1252.5 131.4 L1247.5 134.5 L1248.8 139.5 L1245 142.6 L1223.8 150.8 L1222.5 161.4 L1233.8 166.8 L1220.6 173.2 L1220 182.6 L1216.9 187.6 L1206.2 189.5 L1200 193.2 L1186.9 172 L1187.5 170.1 L1182.5 168.2 L1166.2 178.5 L1155 173.9 L1151.9 170.8 L1147.5 154.5 L1171.2 142.2 L1176.2 144.5 L1178.8 138.2 L1212.5 114.5 L1231.2 105.1 L1243.8 105.1 L1253.8 100.8 L1253.8 100.1 L1287.5 98.9 L1305 103.2 L1321.2 109.5 L1363.8 119.5 L1366.2 123.9 L1356.2 128.9 L1342.5 129.5 L1327.5 127 L1313.8 123.2 L1326.2 129.5 L1327.5 138.2 L1342.5 143.5 L1336.9 135.8 L1357.5 137 L1355 132.6 L1370.6 126.4 L1377.5 113.2 L1396.9 113.2 L1391.2 124.5 L1401.9 124.5 L1403.1 117.6 L1440 110.1 L1481.2 112 L1466.2 104.5 L1490 105.1 L1520 113.2 L1525 115.5 L1528.8 113 L1516.2 108.8 L1515.5 100 L1531.2 88 L1552.5 89.5 L1547 96.2 L1552.5 99.5 L1550 111.2 L1556.2 115 L1537.5 127.5 L1547.5 127.5 L1562.5 117 L1561.2 113.8 L1572.5 112 L1580 119.5 L1588.8 120 L1580 117.5 L1575 111.2 L1557.5 110 L1555 103.8 L1560 101.2 L1553.8 96.2 L1565 89.5 L1587.5 90.5 L1615 95.5 L1615 101.2 L1610 100 L1607.5 95.5 L1597.5 92 L1595 85.5 L1655 70 L1718.8 65.5 L1726.2 61.2 L1742.5 59.5 L1751.2 64.2 L1797.5 68 L1796.2 72.5 L1745 90 L1780 82 L1870 85.5 L1898.8 101.2 L1902.5 94.5 L1948.8 97 L1953 89.5 L2008.1 93.3 L2021.6 100.1 L2057.1 99.3 L2068.4 102.6 L2068.4 107.7 L2090.9 109.4 L2113.7 108 L2119.6 104.3 L2163.5 106.9 L2186.7 112.4 L2186.7 135.6 L2173.6 138.1 L2166.9 135.1 L2177 139.8 L2183.8 148.2 L2182.1 151.3 L2168.6 149.6 L2146.6 160.1 L2129.7 164.8 L2090.9 165.5 L2088.3 187.1 L2080.7 196.4 L2048.6 219.2 L2041 193.9 L2043.6 183.7 L2089.2 160.1 L2094.3 150.8 L2098.5 150.3 L2087.5 150.4 L2086.7 155.8 L2067.2 161.4 L2069.4 154.7 L2052 155.3 L2033.4 167.2 L2040.2 170.2 L2023.3 172.2 L1965.9 169.4 L1925.3 194.2 L1949 198.1 L1957.4 204.8 L1957.5 205.5 L1952.5 230.5 L1916.2 267.5 L1895 268.5 L1888.8 280.5 L1875 289.2 L1883.8 293 L1887.5 305.5 L1885 314.2 L1868.8 316.8 L1868.8 299.2 L1860 295.5 L1863.8 288 L1857.5 284.2 L1840 289.2 L1838.8 279.2 L1816.2 291 L1817.5 294.2 L1846.2 299.2 L1837.5 304.2 L1826.2 313 L1842.5 330.5 L1843.8 343 L1825 374.2 L1811.2 384.2 L1777.5 394.2 L1773.8 399.2 L1770 394.2 L1756.2 394.2 L1758.8 393.1 L1752.5 397.5 L1748.1 403.8 L1750 410 L1757.5 430 L1765.6 431.2 L1768.8 442.5 L1766.2 453.1 L1753.1 459.4 L1751.2 465.6 L1741.2 470 L1741.7 460.3 L1738.7 459.9 L1734.1 459.2 L1731.1 457.3 L1729.5 451.9 L1727.3 448.5 L1718.9 445.5 L1718.5 440.5 L1712.8 441.3 L1712.4 449.3 L1707.5 457.3 L1707.9 462.6 L1709 465.6 L1712.4 465.6 L1714.3 471.7 L1717.4 478.9 L1722.7 480.8 L1731.1 487.7 L1733.3 492.2 L1733.7 503.7 L1737.9 510 L1740 511.2 L1737 516.2 L1732.5 513 L1729.5 510 L1720.4 502.9 L1714.7 493 L1713.2 481.2 L1704.4 471.3 L1702.2 473.2 L1702.5 466.4 L1704.8 459.5 L1704.4 444.3 L1695.3 420 L1694.4 418.8 L1685 428.1 L1679.4 426.2 L1680 415 L1667.5 396.9 L1663.8 387.5 L1647.5 391.9 L1636.9 393.8 L1635.6 398.8 L1608.8 419.4 L1607.5 422.5 L1598.1 425.6 L1596.2 428.8 L1595 440 L1595 458.8 L1590 464.4 L1580 474.4 L1573.1 466.2 L1565 447.5 L1555 423.1 L1550.6 403.8 L1552.5 398.1 L1549.4 388.1 L1547.5 395 L1540 398.5 L1527.5 388.5 L1538.8 384.4 L1522.5 380.6 L1513.8 370.6 L1482.5 372.5 L1482.5 372.5 L1459.4 368.1 L1456.2 360 L1440 363.1 L1423.8 353.8 L1416.2 342.5 L1406.2 345 L1407.5 351.2 L1416.2 365 L1420.6 373.1 L1422.5 365.6 L1425.6 369.4 L1423.8 374.4 L1425 376.9 L1438.8 378.1 L1452.5 366.9 L1453.8 366.2 L1455.6 369.4 L1460 378.8 L1474.4 387.2 L1462.5 407.5 L1446.2 418.1 L1434.4 420.6 L1430 427.5 L1415 434.4 L1381.2 446.2 L1377.5 445.6 L1375.6 436.2 L1374.4 423.1 L1360 403.8 L1351.2 395 L1351.9 386.9 L1347.5 378.1 L1341.9 375 L1330 356.2 L1328.1 353.1 L1326.2 352.5 L1322.5 356.2 L1315 351.2 L1331.9 378.8 L1331.9 384.4 L1338.8 390 L1340 400 L1341.9 409.4 L1348.1 413.1 L1352.5 426.2 L1356.2 430 L1375.6 446.2 L1377.5 450 L1383.1 459.4 L1423.8 449.4 L1425.6 452.5 L1416.9 476.2 L1395 506.9 L1385 509.4 L1366.2 530 L1357.5 538.8 L1352.5 547.5 L1350 557.5 L1354.4 562.5 L1353.1 571.2 L1355 577.5 L1358.8 583.8 L1361.2 600 L1361.2 611.2 L1355 620 L1343.8 624.4 L1332.5 632.5 L1326.2 638.8 L1325.6 641.9 L1330 651.2 L1330.6 662.5 L1326.2 667.5 L1317.5 671.2 L1313.1 677.5 L1315.6 680 L1314.4 687.5 L1310.6 690 L1303.8 697.5 L1298.1 705 L1283.1 716.9 L1273.1 721.2 L1255 723.1 L1238.1 727.5 L1228.1 723.1 L1225 715.6 L1228.8 712.5 L1218.1 690.6 L1209.4 678.1 L1205 655.6 L1196.2 640 L1189.4 627.5 L1189.4 613.8 L1195 597.5 L1200 594.4 L1202.5 586.9 L1198.8 571.2 L1202.5 588 L1197.5 574.4 L1198.8 571.2 L1193.1 556.9 L1191.2 550 L1185.6 543.8 L1171.5 525.6 L1175 524 L1176.2 515 L1177.5 508.1 L1177.5 501.2 L1170.6 494 L1155.6 495 L1145 482.9 L1130 483.8 L1114.4 489.4 L1102.5 491.2 L1092.5 490 L1075 495.6 L1062.5 488.1 L1052.5 480.6 L1043.8 470.6 L1041.9 466.9 L1030 455.6 L1020.6 447.5 L1020 438.8 L1016.2 433.1 L1022.2 426.2 L1022.5 421.2 L1025.6 415 L1022.5 402.5 L1019.4 397.5 L1020 394.4 L1024.4 381.2 L1029.4 372.5 L1037.5 361.2 L1043.1 356.2 L1055 350.6 L1061.9 344.4 L1062.5 340 L1062.5 343.8 L1061.9 335 L1065 328.8 L1070 323.8 L1086.2 308.1 L1096.2 312.5 L1106.2 312.5 L1128.8 303.8 L1141.2 302.5 L1161.2 301.9 L1171.2 301.2 L1177.5 299.4 L1185 301.2 L1185.6 312.5 L1180.6 315 L1179.4 319.4 L1181.9 321.9 L1188.8 325 L1207.5 328.8 L1232.5 341.2 L1237.5 339.4 L1239.4 335.6 L1237.5 331.2 L1247.5 325.6 L1253.8 326.2 L1240 330 L1248.1 325.6 L1256.2 327.5 L1268.1 333.1 L1290 338.1 L1295 336.9 L1302.5 333.8 L1315 335.6 L1322.5 335.6 L1325 340 L1325 340 L1327.5 328.8 L1328.8 322.5 L1333.1 316.2 L1332.5 308.1 L1315 306.2 L1302.5 305.6 L1288.8 306.2 L1281.2 300 L1276.2 292.5 L1274.4 285 L1277.5 281.2 L1296.2 278.8 L1276.2 276.2 L1276 277.1 L1260.8 279.8 L1263.1 282.4 L1262.3 284.3 L1260.4 284 L1258.5 283.2 L1254.3 280.5 L1258.1 288.5 L1256.6 290 L1262.3 293.5 L1263.5 296.9 L1258.5 296.9 L1256.2 299.5 L1257.4 305.2 L1254.7 301.8 L1253.6 305.6 L1250.2 300.7 L1248.6 303.3 L1245.6 295.4 L1244.8 293.8 L1239.5 286.2 L1234.6 282.4 L1234.2 270.3 L1231.2 268.8 L1220 267.5 L1211.2 261.2 L1207.5 256.2 L1200 252.5 L1197.5 250.6 L1195 256.2 L1198.1 263.1 L1202.5 268.8 L1223.8 278.1 L1230 282.5 L1223.8 282.5 L1220 285 L1222.5 288.1 L1220 291.9 L1213.8 296.2 L1212.5 283.8 L1193.1 274.4 L1180 262.5 L1172.5 261.2 L1163.8 262.5 L1155.6 266.2 L1140.6 264.4 L1138.1 268.1 L1139.4 269.4 L1138.1 272.5 L1128.8 276.9 L1118.1 288.1 L1120 291.2 L1116.9 296.2 L1108.8 302.8 L1094.4 303.1 L1086.2 308.1 L1078.8 301.2 L1076.2 302.5 L1066.2 301.2 L1067.5 293.8 L1062.5 291.2 L1068.8 280 L1067.5 271.2 L1064.4 265.6 L1071.2 260.6 L1108.8 263.8 L1113.8 263.8 L1110 262.5 L1113.5 251.2 L1104.4 239.4 L1093.1 235.6 L1091.9 233.1 L1110 231.2 L1111.9 231.9 L1110 227.5 L1125 225.6 L1130 220Z M2178.4 98.4 L2186.7 97.2 L2186.7 100.1 L2178.7 102.6Z M1663.8 48.8 L1667.5 40 L1685 37 L1715 47 L1709.5 53.8 L1680 51.2Z M1707.5 58 L1727.5 49.5 L1744.5 53.8 L1744.5 56.2Z M1932.5 74.2 L1941.2 69.2 L1981.2 72.5 L1978.8 77 L1940 78Z M1984.5 75 L2016.2 73.2 L2013.8 77.5 L1990 76.8Z M1681.2 488.8 L1697.5 491.2 L1717.5 512.5 L1742.5 537.5 L1745.5 547.5 L1739.5 551.2 L1715 536.2 L1713.8 527.5 L1695 505 L1693.8 500Z M1742.5 531.2 L1747.5 529.5 L1752.5 539.5Z M1756.2 537.5 L1760.5 536.2 L1761.2 540 L1757 540.5Z M1744.5 559.5 L1751.2 555.5 L1780 557.5 L1802.5 564.5 L1802 567.5 L1790 570.5 L1755 563Z M1811.2 572 L1822.5 572.5 L1815 574Z M1826.2 578 L1833.8 580 L1830 580.5Z M1832.5 572 L1847.5 571.2 L1848 572.5 L1835 573.2Z M1852.5 578.8 L1865 572.5 L1871.2 572 L1866.2 575 L1855 580Z M1765 515 L1768.8 508.8 L1777.5 511.2 L1780 503.8 L1790 501.2 L1796.2 492.5 L1802.5 491.2 L1813.8 478.8 L1817.5 486.2 L1827.5 488.8 L1820 492.5 L1823.8 495 L1817 496.2 L1817.5 508.8 L1825 515 L1818.8 516.2 L1817.5 526.2 L1810 528.8 L1807.5 543.8 L1790 544.5 L1773.8 537.5 L1766.2 523.8Z M1827.5 553.8 L1828.8 542.5 L1825 538.8 L1826.2 526.2 L1832.5 515 L1840 512.5 L1855 516.2 L1862.5 511.2 L1858.8 517.5 L1850 520 L1835 518.8 L1831.2 528.8 L1836.2 528.8 L1845 523.8 L1852.5 526.2 L1851.2 531.2 L1842.5 531.2 L1843.8 538.8 L1852.5 543.8 L1851.2 553.8 L1843.8 553.8 L1836.2 537.5 L1833.8 553.8Z M1873.8 518.8 L1877.5 506.2 L1881.2 505 L1882.5 517.5 L1880 530 L1875 531.2 L1872.5 526.2Z M1866.2 540 L1872.5 539.2 L1873.8 542.5 L1868.8 543Z M1877.5 541.2 L1880 537.5 L1893.8 537.5 L1895.5 543 L1888.8 541.2 L1880 542.5Z M1892.5 525 L1905 523 L1915 525.5 L1913.8 533.8 L1920 540 L1927.5 533.8 L1937.5 529.5 L1955.5 536.2 L1980 543.8 L1983.8 548.8 L1986.2 555 L1995 556.2 L1996.2 561.2 L1990 562.5 L2015 582.5 L2011.2 584.5 L2000 581.2 L1987.5 570 L1980 566.2 L1967.5 576.2 L1955.5 575 L1955.5 575 L1955.5 570 L1935 570.5 L1942.5 561.2 L1937.5 552.5 L1926.2 547.5 L1905 543.8 L1901.2 537.5 L1908.8 535.5Z M1998.8 555 L2012.5 551.2 L2020 545 L2026.2 543.8 L2027.5 547.5 L2022.5 550 L2015 556.2 L2005 558.8Z M2012.5 536.2 L2025 542.5 L2026.2 544.5 L2013.8 537.5Z M2106.2 608.2 L2110 610 L2113 615 L2108.8 613.8Z M2091.2 640.8 L2095 640 L2108.8 651.2 L2105 650.5Z M1903.8 586.2 L1921.2 593 L1931.2 585.5 L1931.2 592.5 L1923.8 607.5 L1953.8 625.5 L1957.5 602.5 L1964.2 585 L1970 596.2 L1981.2 608.8 L1987.5 633.8 L2000 641.2 L2007.5 655 L2012.5 653.8 L2027.5 671.2 L2030.8 691.2 L2023.8 711.2 L2007.5 743.8 L1998.8 745 L1988.8 752.5 L1967.5 750 L1952.5 746.2 L1946.2 731.2 L1931.2 728.8 L1937.5 716.2 L1924.5 728 L1911.2 711.2 L1896.2 707 L1866.2 712 L1850 722 L1830 721.2 L1816.2 728.8 L1801.8 724.5 L1805 711.2 L1802 696.2 L1791.2 673.8 L1796.2 677.5 L1793.8 670 L1791.2 663.8 L1794.5 648.8 L1810 642.5 L1838 637.5 L1845 620 L1848.8 618.8 L1852.5 623.8 L1860 607.5 L1871.2 602.5 L1878.8 607.5 L1886.2 607.5 L1890 598.8Z M1976.4 763 L1978.9 762.2 L1987.3 764.5 L1996.4 761.9 L1998.7 763.8 L1997.1 774.4 L1990.3 779.7 L1985 778.2 L1981.2 772.9Z M2143.3 724.3 L2152.7 728.8 L2158 740.2 L2159.6 734.6 L2164.1 744 L2172.5 744.8 L2177.8 743.7 L2175.5 753.1 L2169.4 753.4 L2164.9 763.8 L2157.3 767.5 L2154.7 765.6 L2158 759.2 L2149.7 753.4 L2155 750.9 L2155.8 744Z M2142.9 760.3 L2151.2 763 L2152.7 768.3 L2143.6 777.4 L2145.1 780.4 L2136.8 782 L2133.8 789.6 L2130.7 793.4 L2124.7 797.9 L2114 796.4 L2106.4 792.3 L2110.2 786.5 L2115.5 782 L2133 775.1 L2136 769.1Z M1446.5 644 L1450 642.5 L1452.5 647.5 L1449 649.5Z M1459 640 L1465 641.5 L1461.5 644.5Z M1180.2 47.2 L1198.1 48.5 L1216.9 47.8 L1222.5 46.2 L1240 53.5 L1228.5 60 L1223.8 68.5 L1201.2 63.1 L1201 60.2 L1203.8 58.1 L1214.4 55.6 L1210 53.5 L1197.5 58.5Z M1228.1 45.6 L1236.2 43.1 L1273.8 43.1 L1285.6 46.5 L1270 50 L1256.2 51.5 L1246.2 51Z M1243.1 52.8 L1267.5 60.2 L1241.2 62.5Z"/>
</g>
<g fill="#fff" stroke="#000" stroke-width="1" stroke-linejoin="round" shape-rendering="crispEdges">
<path d="M1316.2 576.2 L1322.5 578.8 L1326.2 590 L1323.8 595 L1327.5 602.5 L1329.4 607.5 L1323.8 616.2 L1322.5 611.2 L1325 605 L1321.2 595 L1319.4 590 L1320 583.8Z"/>
<path d="M1292.5 540 L1294.4 540 L1296.2 552.5 L1300 562.5 L1305 571.2 L1303.1 571.9 L1297.8 563.1 L1294 553.1Z"/>
<path d="M1309.4 522.5 L1311.9 520 L1315 518.8 L1320 520 L1323.1 523.1 L1321.9 527.5 L1320 531.9 L1317.5 535 L1313.8 535 L1310 536.9 L1308.1 531.2 L1308.5 526.2Z"/>
<path d="M1282.5 270 L1290 275 L1307.5 276.2 L1320 270.6 L1343.8 275 L1366.2 273.8 L1358.8 262.5 L1337.5 253.1 L1336.2 251.9 L1343.1 251.2 L1343.8 244.4 L1352.5 241.2 L1342.5 243.8 L1331.2 246.9 L1326.2 250.6 L1327.5 251.2 L1320 258.1 L1312.5 253.1 L1320 249.4 L1315 248.1 L1302.5 246.9 L1295 251.9 L1290 258.1Z"/>
<path d="M1412.5 246.2 L1423.8 241.9 L1434.4 243.1 L1433.1 251.2 L1416.2 255.6 L1420 261.2 L1431.2 271.2 L1433.8 278.8 L1433.1 283.8 L1440 291.2 L1440 299.4 L1427.5 304.4 L1417.5 300.6 L1410 296.2 L1409.4 293.1 L1413.8 290 L1417.5 281.2 L1406.2 266.9 L1402.5 260 L1397.5 257.5Z"/>
<path d="M1465 250.6 L1472.5 246.9 L1479.4 247.5 L1477.5 256.2 L1471.2 258.8 L1465 257.5Z"/>
<path d="M574.3 243.6 L589.5 236 L597.9 230.2 L608.2 231.1 L610.9 236.4 L617.6 236.4 L617.1 238.7 L621.6 244.5 L617.1 243.6 L602.4 245.8 L599.3 242.7 L595.7 243.1 L593.9 240.4 L585.9 244.5 L581 244.3 L580.5 243.1 L576.5 244.9Z"/>
<path d="M598.4 256.1 L602 251.6 L604.6 249.4 L612.7 247.6 L616.7 249.4 L613.6 253.4 L610 254.7 L607.8 259.6 L609.1 265 L608.7 271.2 L603.3 274.8 L599.7 271.7 L599.3 265 L601.5 257Z"/>
<path d="M617.1 249.4 L621.6 245.8 L631.4 247.1 L641.7 248 L648.4 255.6 L645.7 257 L639.5 253.4 L635.9 258.8 L635.4 263.7 L631.9 265.4 L629.6 259.6 L626.5 258.8 L626.1 253.4 L621.6 251.2Z"/>
<path d="M622.5 261.4 L624.7 259.6 L626.1 261.4 L623.8 262.8Z"/>
<path d="M625.6 273.5 L629.6 271.2 L652 265 L652.9 267.7 L645.7 271.2 L632.3 276.2 L627.4 275.7Z"/>
<path d="M647.9 263.9 L653.8 260.5 L662.7 258.8 L671.6 257.4 L668.5 262.3 L665.8 264.4 L658.2 264.6 L652.9 263.7Z"/>
<circle cx="763.8" cy="354.2" r="5.2" fill="#f0f0f0"/>
<circle cx="780" cy="366.5" r="5.2" fill="#f0f0f0"/>
<circle cx="792.5" cy="382.2" r="5.2" fill="#f0f0f0"/>
<circle cx="799.2" cy="401" r="5.2" fill="#f0f0f0"/>
<circle cx="800.5" cy="419.5" r="5.2" fill="#f0f0f0"/>
<circle cx="795.5" cy="436.5" r="5.2" fill="#f0f0f0"/>
<circle cx="785.8" cy="451.5" r="5.2" fill="#f0f0f0"/>
<circle cx="773.2" cy="462.2" r="5.2" fill="#f0f0f0"/>
<circle cx="1143.4" cy="282.5" r="5.2" fill="#f0f0f0"/>
<circle cx="1161" cy="273.1" r="5.2" fill="#f0f0f0"/>
<circle cx="1204" cy="259.8" r="5.2" fill="#f0f0f0"/>
<circle cx="1419.6" cy="357.5" r="5.2" fill="#f0f0f0"/>
<circle cx="1913.1" cy="481.2" r="5.2" fill="#f0f0f0"/>
<circle cx="1913" cy="481.2" r="5.2" fill="#f0f0f0"/>
<circle cx="2003" cy="475" r="5.2" fill="#f0f0f0"/>
<circle cx="2128.2" cy="481.8" r="5.2" fill="#f0f0f0"/>
<circle cx="2109.2" cy="523.2" r="5.2" fill="#f0f0f0"/>
<circle cx="2153.2" cy="522.5" r="5.2" fill="#f0f0f0"/>
<circle cx="2169.5" cy="565" r="5.2" fill="#f0f0f0"/>
<circle cx="2074.5" cy="572" r="5.2" fill="#f0f0f0"/>
<circle cx="1878.8" cy="582.5" r="5.2" fill="#f0f0f0"/>
<circle cx="1736.2" cy="516.2" r="5.2" fill="#f0f0f0"/>
<circle cx="978.5" cy="427" r="5.2" fill="#f0f0f0"/>
<circle cx="1159.8" cy="518" r="5.2" fill="#f0f0f0"/>
<circle cx="1450" cy="546.5" r="5.2" fill="#f0f0f0"/>
<circle cx="1549" cy="494" r="5.2" fill="#f0f0f0"/>
<circle cx="101.5" cy="574.5" r="5.2" fill="#f0f0f0"/>
<circle cx="100" cy="602" r="5.2" fill="#f0f0f0"/>
<circle cx="85.5" cy="639.5" r="5.2" fill="#f0f0f0"/>
<circle cx="114" cy="633.5" r="5.2" fill="#f0f0f0"/>
<circle cx="178.5" cy="643.5" r="5.2" fill="#f0f0f0"/>
</g>
<g stroke="#000" stroke-width="1" stroke-linejoin="miter" shape-rendering="crispEdges">
<rect x="603.25" y="300.75" width="25.5" height="26.5" fill="#ffd700"/>
<circle cx="1030" cy="446.3" r="9" fill="#f0f0f0"/>
<path d="M578.55 447.25 L592.75 422.25 L606.95 447.25Z" fill="#ccff66"/>
<path d="M592.05 441.75 L606.25 416.75 L620.45 441.75Z" fill="#ccff66"/>
<path d="M602.8 453.5 L617 428.5 L631.2 453.5Z" fill="#ccff66"/>
<path d="M631.4 478 L645.6 453 L659.8 478Z" fill="#ccff66"/>
<path d="M640.8 537.25 L655 512.25 L669.2 537.25Z" fill="#ccff66"/>
<path d="M665 584 L679.2 559 L693.4 584Z" fill="#ccff66"/>
<path d="M722.6 628.5 L736.8 603.5 L751 628.5Z" fill="#ccff66"/>
<path d="M759.55 666 L773.75 641 L787.95 666Z" fill="#ccff66"/>
<path d="M1246.2 545.4 L1260.4 520.4 L1274.6 545.4Z" fill="#ccff66"/>
<path d="M1283.7 434.4 L1297.9 409.4 L1312.1 434.4Z" fill="#ccff66"/>
<path d="M1387.5 434.4 L1401.7 409.4 L1415.9 434.4Z" fill="#ccff66"/>
<path d="M1340.7 478.5 L1354.9 453.5 L1369.1 478.5Z" fill="#ccff66"/>
<path d="M1330 525.6 L1344.2 500.6 L1358.4 525.6Z" fill="#ccff66"/>
<path d="M1282.7 641.25 L1296.9 616.25 L1311.1 641.25Z" fill="#ccff66"/>
<path d="M1316.8 631.25 L1331 606.25 L1345.2 631.25Z" fill="#ccff66"/>
<path d="M1272.3 212 L1286.5 187 L1300.7 212Z" fill="#ccff66"/>
<path d="M1292.05 239.4 L1306.25 214.4 L1320.45 239.4Z" fill="#ccff66"/>
<path d="M1364.2 279.4 L1378.4 254.4 L1392.6 279.4Z" fill="#ccff66"/>
<path d="M1389.4 290.4 L1403.6 265.4 L1417.8 290.4Z" fill="#ccff66"/>
<path d="M1480.8 281.25 L1495 256.25 L1509.2 281.25Z" fill="#ccff66"/>
<path d="M1497.3 328.5 L1511.5 303.5 L1525.7 328.5Z" fill="#ccff66"/>
<path d="M1716.4 251.25 L1730.6 226.25 L1744.8 251.25Z" fill="#ccff66"/>
<path d="M1721.4 420.6 L1735.6 395.6 L1749.8 420.6Z" fill="#ccff66"/>
<path d="M1735.4 429.1 L1749.6 404.1 L1763.8 429.1Z" fill="#ccff66"/>
<path d="M1824.7 433.5 L1838.9 408.5 L1853.1 433.5Z" fill="#ccff66"/>
</g><g stroke="#000" stroke-width="1" fill="#0000ff" shape-rendering="crispEdges">
<path d="M585.3 439 L593 431.3 L600.7 439 L593 446.7Z"/>
<path d="M598.55 432.25 L606.25 424.55 L613.95 432.25 L606.25 439.95Z"/>
<path d="M609.3 444 L617 436.3 L624.7 444 L617 451.7Z"/>
<path d="M637.8 469.25 L645.5 461.55 L653.2 469.25 L645.5 476.95Z"/>
<path d="M647.3 529.25 L655 521.55 L662.7 529.25 L655 536.95Z"/>
<path d="M671.55 575.5 L679.25 567.8 L686.95 575.5 L679.25 583.2Z"/>
<path d="M729.05 619.75 L736.75 612.05 L744.45 619.75 L736.75 627.45Z"/>
<path d="M766.05 657.75 L773.75 650.05 L781.45 657.75 L773.75 665.45Z"/>
<path d="M1027.9 434.4 L1035.6 426.7 L1043.3 434.4 L1035.6 442.1Z"/>
<path d="M1091.05 418.1 L1098.75 410.4 L1106.45 418.1 L1098.75 425.8Z"/>
<path d="M1167.9 417.75 L1175.6 410.05 L1183.3 417.75 L1175.6 425.45Z"/>
<path d="M1101.7 447.75 L1109.4 440.05 L1117.1 447.75 L1109.4 455.45Z"/>
<path d="M1042.9 470 L1050.6 462.3 L1058.3 470 L1050.6 477.7Z"/>
<path d="M1079.2 476.25 L1086.9 468.55 L1094.6 476.25 L1086.9 483.95Z"/>
<path d="M1104.8 473.5 L1112.5 465.8 L1120.2 473.5 L1112.5 481.2Z"/>
<path d="M1106.3 485.6 L1114 477.9 L1121.7 485.6 L1114 493.3Z"/>
<path d="M1117.3 470 L1125 462.3 L1132.7 470 L1125 477.7Z"/>
<path d="M1126.05 463.4 L1133.75 455.7 L1141.45 463.4 L1133.75 471.1Z"/>
<path d="M1160.05 464 L1167.75 456.3 L1175.45 464 L1167.75 471.7Z"/>
<path d="M1188.2 486.9 L1195.9 479.2 L1203.6 486.9 L1195.9 494.6Z"/>
<path d="M1234.4 481.9 L1242.1 474.2 L1249.8 481.9 L1242.1 489.6Z"/>
<path d="M1252.7 537.9 L1260.4 530.2 L1268.1 537.9 L1260.4 545.6Z"/>
<path d="M1290.05 425.9 L1297.75 418.2 L1305.45 425.9 L1297.75 433.6Z"/>
<path d="M1393.9 426.6 L1401.6 418.9 L1409.3 426.6 L1401.6 434.3Z"/>
<path d="M1304.4 513.1 L1312.1 505.4 L1319.8 513.1 L1312.1 520.8Z"/>
<path d="M1289.55 532.75 L1297.25 525.05 L1304.95 532.75 L1297.25 540.45Z"/>
<path d="M1336.4 517.5 L1344.1 509.8 L1351.8 517.5 L1344.1 525.2Z"/>
<path d="M1318.55 557.5 L1326.25 549.8 L1333.95 557.5 L1326.25 565.2Z"/>
<path d="M1216.05 593.75 L1223.75 586.05 L1231.45 593.75 L1223.75 601.45Z"/>
<path d="M1277.05 600 L1284.75 592.3 L1292.45 600 L1284.75 607.7Z"/>
<path d="M1289.4 633.1 L1297.1 625.4 L1304.8 633.1 L1297.1 640.8Z"/>
<path d="M1214.4 651.25 L1222.1 643.55 L1229.8 651.25 L1222.1 658.95Z"/>
<path d="M1389.2 635 L1396.9 627.3 L1404.6 635 L1396.9 642.7Z"/>
<path d="M1298.8 677.5 L1306.5 669.8 L1314.2 677.5 L1306.5 685.2Z"/>
<path d="M1279.55 696 L1287.25 688.3 L1294.95 696 L1287.25 703.7Z"/>
<path d="M1278.8 203.25 L1286.5 195.55 L1294.2 203.25 L1286.5 210.95Z"/>
<path d="M1298.55 231 L1306.25 223.3 L1313.95 231 L1306.25 238.7Z"/>
<path d="M1370.4 271 L1378.1 263.3 L1385.8 271 L1378.1 278.7Z"/>
<path d="M1379.2 281.9 L1386.9 274.2 L1394.6 281.9 L1386.9 289.6Z"/>
<path d="M1395.4 281.9 L1403.1 274.2 L1410.8 281.9 L1403.1 289.6Z"/>
<path d="M1487.3 273.1 L1495 265.4 L1502.7 273.1 L1495 280.8Z"/>
<path d="M1503.8 320.6 L1511.5 312.9 L1519.2 320.6 L1511.5 328.3Z"/>
<path d="M1524.2 343.1 L1531.9 335.4 L1539.6 343.1 L1531.9 350.8Z"/>
<path d="M1611.05 354 L1618.75 346.3 L1626.45 354 L1618.75 361.7Z"/>
<path d="M1722.9 243.1 L1730.6 235.4 L1738.3 243.1 L1730.6 250.8Z"/>
<path d="M1647.3 379.75 L1655 372.05 L1662.7 379.75 L1655 387.45Z"/>
<path d="M1590.4 475.6 L1598.1 467.9 L1605.8 475.6 L1598.1 483.3Z"/>
<path d="M1742.3 421.6 L1750 413.9 L1757.7 421.6 L1750 429.3Z"/>
<path d="M1733.55 445.6 L1741.25 437.9 L1748.95 445.6 L1741.25 453.3Z"/>
<path d="M1968.05 560.5 L1975.75 552.8 L1983.45 560.5 L1975.75 568.2Z"/>
<path d="M2170.3 627 L2178 619.3 L2185.7 627 L2178 634.7Z"/>
</g><g stroke="#000" stroke-width="1" fill="#ff0000" shape-rendering="crispEdges">
<circle cx="686.5" cy="497.25" r="8.8"/>
<circle cx="847.5" cy="657.25" r="8.8"/>
<circle cx="1029.4" cy="441.25" r="8.8"/>
<circle cx="1309.4" cy="343.5" r="8.8"/>
<circle cx="1291.25" cy="680.25" r="8.8"/>
<circle cx="1345.4" cy="194.25" r="8.8"/>
<circle cx="1591.5" cy="449.4" r="8.8"/>
<circle cx="1877.5" cy="305.5" r="8.8"/>
<circle cx="1979.25" cy="746.25" r="8.8"/>
</g>
<g stroke="#000" stroke-width="1" shape-rendering="crispEdges">
<rect x="36.5" y="725.5" width="10" height="10" fill="#ffd700"/>
<circle cx="41.2" cy="762.2" r="5.4" fill="#ff0000" stroke-width="0.7"/>
<path d="M33.4 798.3 L41.5 784.5 L49.7 798.3Z" fill="#ccff66"/>
<path d="M34.2 826 L42 818.2 L49.8 826 L42 833.8Z" fill="#0000ff" stroke="#00008b" stroke-width="0.7"/>
<rect x="35.1" y="900.9" width="19.9" height="15.6" fill="#87ceeb"/>
<rect x="35.1" y="932.8" width="19.9" height="15" fill="#d3d3d3"/>
</g>
<rect x="1897" y="918" width="191.2" height="14.8" fill="#000"/>
<rect x="1922" y="921.2" width="21.5" height="10.5" fill="#fff"/>
<rect x="1968.8" y="921.2" width="21.6" height="10.5" fill="#fff"/>
<g font-family="Liberation Sans, sans-serif" font-weight="bold" font-size="13.8" fill="#000">
<text x="1894.3" y="912" textLength="7.8" lengthAdjust="spacingAndGlyphs">0</text>
<text x="1931.2" y="912" textLength="24.3" lengthAdjust="spacingAndGlyphs">875</text>
<text x="1977.7" y="912" textLength="32.3" lengthAdjust="spacingAndGlyphs">1750</text>
<text x="2061.1" y="912" textLength="110.1" lengthAdjust="spacingAndGlyphs">3500 Kilometers</text>
</g>
<g>
<g fill="none" stroke="#2a2a2a" stroke-width="1.25">
<circle cx="1940.6" cy="1066.4" r="34.6"/>
<circle cx="1940.6" cy="1066.4" r="27.6"/>
<circle cx="1940.6" cy="1066.4" r="20.6"/>
<circle cx="1940.6" cy="1066.4" r="13.6"/>
<path d="M1906.0 1066.4 H1975.1999999999998 M1916.1 1041.9 L1965.1 1090.9 M1965.1 1041.9 L1916.1 1090.9"/>
</g>
<g fill="#2a2a2a">
<path d="M1910.6 1075.4 l8 -3 l3 3 l6 0 l2 6 l6 8 l-5 1 l-4 -3 l-3 2 l-5 -7 l-6 -3z"/>
<path d="M1944.6 1058.4 l6 -3 l8 1 l4 5 l-3 5 l4 6 l-4 5 l3 6 l-3 9 l-8 3 l-3 -6 l-5 -8 l2 -6 l-4 -6z"/>
<path d="M1927.6 1062.4 l4 -4 l4 3 l-2 5 l-4 1z"/>
</g>
<path d="M1938.6999999999998 1026.4 q1.9 -3 3.8 0 l-0.8 72 h-2.2z" fill="#2a2a2a"/>
<path d="M1926.6 1043.4 q6 -6 13 -5 q14 1 14 11 q0 9 -14 11 q-10 2 -10 8 q0 6 10 8 q9 2 9 8 q0 6 -9 7 q-4 1 -2 5" fill="none" stroke="#2a2a2a" stroke-width="3.6" stroke-linecap="round"/>
<g fill="#2a2a2a">
<ellipse cx="1915.1" cy="1107.3" rx="8.6" ry="2.3" transform="rotate(174.7 1915.1 1107.3)"/>
<ellipse cx="1919.6" cy="1101.2" rx="6.6" ry="1.9" transform="rotate(-123.3 1919.6 1101.2)"/>
<ellipse cx="1907.1" cy="1100.3" rx="8.6" ry="2.3" transform="rotate(-172.2 1907.1 1100.3)"/>
<ellipse cx="1912.9" cy="1095.4" rx="6.6" ry="1.9" transform="rotate(-110.1 1912.9 1095.4)"/>
<ellipse cx="1900.9" cy="1091.7" rx="8.6" ry="2.3" transform="rotate(-159.2 1900.9 1091.7)"/>
<ellipse cx="1907.6" cy="1088.2" rx="6.6" ry="1.9" transform="rotate(-97.1 1907.6 1088.2)"/>
<ellipse cx="1896.6" cy="1081.9" rx="8.6" ry="2.3" transform="rotate(-146.4 1896.6 1081.9)"/>
<ellipse cx="1903.9" cy="1080.0" rx="6.6" ry="1.9" transform="rotate(-84.3 1903.9 1080.0)"/>
<ellipse cx="1894.6" cy="1071.3" rx="8.6" ry="2.3" transform="rotate(-133.7 1894.6 1071.3)"/>
<ellipse cx="1902.2" cy="1071.1" rx="6.6" ry="1.9" transform="rotate(-71.6 1902.2 1071.1)"/>
<ellipse cx="1894.9" cy="1060.5" rx="8.6" ry="2.3" transform="rotate(-121.0 1894.9 1060.5)"/>
<ellipse cx="1902.4" cy="1062.0" rx="6.6" ry="1.9" transform="rotate(-59.0 1902.4 1062.0)"/>
<ellipse cx="1897.6" cy="1050.0" rx="8.6" ry="2.3" transform="rotate(-108.4 1897.6 1050.0)"/>
<ellipse cx="1904.5" cy="1053.1" rx="6.6" ry="1.9" transform="rotate(-46.3 1904.5 1053.1)"/>
<ellipse cx="1902.5" cy="1040.4" rx="8.6" ry="2.3" transform="rotate(-95.6 1902.5 1040.4)"/>
<ellipse cx="1908.5" cy="1045.0" rx="6.6" ry="1.9" transform="rotate(-33.6 1908.5 1045.0)"/>
<ellipse cx="1966.1" cy="1107.3" rx="8.6" ry="2.3" transform="rotate(5.3 1966.1 1107.3)"/>
<ellipse cx="1961.6" cy="1101.2" rx="6.6" ry="1.9" transform="rotate(303.3 1961.6 1101.2)"/>
<ellipse cx="1974.1" cy="1100.3" rx="8.6" ry="2.3" transform="rotate(352.2 1974.1 1100.3)"/>
<ellipse cx="1968.3" cy="1095.4" rx="6.6" ry="1.9" transform="rotate(290.1 1968.3 1095.4)"/>
<ellipse cx="1980.3" cy="1091.7" rx="8.6" ry="2.3" transform="rotate(339.2 1980.3 1091.7)"/>
<ellipse cx="1973.6" cy="1088.2" rx="6.6" ry="1.9" transform="rotate(277.1 1973.6 1088.2)"/>
<ellipse cx="1984.6" cy="1081.9" rx="8.6" ry="2.3" transform="rotate(326.4 1984.6 1081.9)"/>
<ellipse cx="1977.3" cy="1080.0" rx="6.6" ry="1.9" transform="rotate(264.3 1977.3 1080.0)"/>
<ellipse cx="1986.6" cy="1071.3" rx="8.6" ry="2.3" transform="rotate(313.7 1986.6 1071.3)"/>
<ellipse cx="1979.0" cy="1071.1" rx="6.6" ry="1.9" transform="rotate(251.6 1979.0 1071.1)"/>
<ellipse cx="1986.3" cy="1060.5" rx="8.6" ry="2.3" transform="rotate(301.0 1986.3 1060.5)"/>
<ellipse cx="1978.8" cy="1062.0" rx="6.6" ry="1.9" transform="rotate(239.0 1978.8 1062.0)"/>
<ellipse cx="1983.6" cy="1050.0" rx="8.6" ry="2.3" transform="rotate(288.4 1983.6 1050.0)"/>
<ellipse cx="1976.7" cy="1053.1" rx="6.6" ry="1.9" transform="rotate(226.3 1976.7 1053.1)"/>
<ellipse cx="1978.7" cy="1040.4" rx="8.6" ry="2.3" transform="rotate(275.6 1978.7 1040.4)"/>
<ellipse cx="1972.7" cy="1045.0" rx="6.6" ry="1.9" transform="rotate(213.6 1972.7 1045.0)"/>
</g>
<path d="M1908.6 1106.4 q18 8 32 0 q14 8 32 0 M1930.6 1114.4 q6 -5 10 -8 q4 3 10 8" fill="none" stroke="#2a2a2a" stroke-width="2.4" stroke-linecap="round"/>
</g>
<g font-family="Liberation Sans, sans-serif" font-weight="bold" font-size="34.2" fill="#2a2a2a">
<text x="1999.8" y="1066.8" textLength="181.4" lengthAdjust="spacingAndGlyphs">World Health</text>
<text x="1998.6" y="1099.1" textLength="182.4" lengthAdjust="spacingAndGlyphs">Organization</text>
</g>
</svg>
<div class="t" style="left:75.2px;top:718.48px;font-size:27px;letter-spacing:0.135px;">Global reference lab (N=1)</div>
<div class="t" style="left:75.2px;top:750.48px;font-size:27px;letter-spacing:0.135px;">Regional reference lab (N=9)</div>
<div class="t" style="left:75.2px;top:782.48px;font-size:27px;letter-spacing:0.135px;">National/Sub-national lab (N=26)</div>
<div class="t" style="left:75.2px;top:814.48px;font-size:27px;letter-spacing:0.135px;">Site lab (N=88)*</div>
<div class="t" style="left:77.3px;top:896.49px;font-size:27.1px;letter-spacing:0.147px;">Countries in Global IBD Network (N=58)</div>
<div class="t" style="left:77.3px;top:928.49px;font-size:27.1px;letter-spacing:0.147px;">Not applicable</div>
<div class="t" style="left:852.8px;top:900.18px;font-size:27px;font-weight:bold;letter-spacing:0.37px;">Map production:</div>
<div class="t" style="left:852.8px;top:930.48px;font-size:27px;font-weight:bold;letter-spacing:0.37px;">Data source:</div>
<div class="t" style="left:1090.9px;top:899.93px;font-size:27.3px;letter-spacing:0.095px;">World Health Organization, WHO, 2017. All rights reserved</div>
<div class="t" style="left:1090.9px;top:930.48px;font-size:27.0px;letter-spacing:0.095px;">Global IB-VPD Surveillance Network</div>
<div class="t" style="left:23.0px;top:977.31px;font-size:20.1px;font-weight:bold;letter-spacing:0.6px;">Notes:</div>
<div class="t" style="left:23.4px;top:1006.79px;font-size:15.42px;letter-spacing:0.028px;">* Only one sentinel site laboratory plotted by country. Position of labs on the map does not always reflect their exact geographical location.</div>
<div class="t" style="left:23.0px;top:1044.22px;font-size:20.2px;font-weight:bold;letter-spacing:0.39px;">Disclaimer:</div>
<div class="t" style="left:23.4px;top:1067.82px;font-size:15.39px;letter-spacing:0.008px;">The boundaries and names shown and the designations used on this map do notimply the expression of any opinion whatsoever on the part of the World Health Organization concerning the legal status of any country, territory, city or area</div>
<div class="t" style="left:23.4px;top:1086.77px;font-size:15.45px;letter-spacing:0.029px;">or of its authorities, or concerning the delimitation of its frontiers or boundaries. Dotted and dashed lines on maps represent approximate border lines for which there may not yet be full agreement.</div>
</body></html>
